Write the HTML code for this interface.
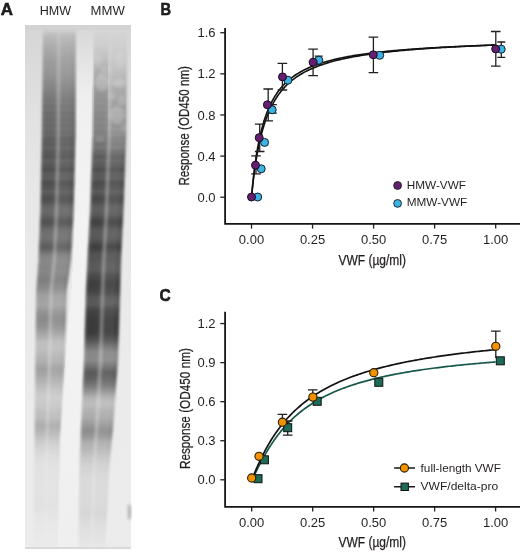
<!DOCTYPE html>
<html><head><meta charset="utf-8"><style>
html,body{margin:0;padding:0;background:#fff;}
body{width:520px;height:552px;position:relative;overflow:hidden;font-family:"Liberation Sans", sans-serif;}
</style></head><body>
<svg width="520" height="552" viewBox="0 0 520 552" style="position:absolute;left:0;top:0" shape-rendering="crispEdges">
<defs>
<linearGradient id="lp" x1="0" x2="1" y1="0" y2="0"><stop offset="0.000" stop-color="#000" stop-opacity="0.000"/><stop offset="0.030" stop-color="#000" stop-opacity="0.600"/><stop offset="0.070" stop-color="#000" stop-opacity="0.950"/><stop offset="0.110" stop-color="#000" stop-opacity="1.000"/><stop offset="0.250" stop-color="#000" stop-opacity="1.000"/><stop offset="0.400" stop-color="#000" stop-opacity="0.980"/><stop offset="0.430" stop-color="#000" stop-opacity="0.850"/><stop offset="0.460" stop-color="#000" stop-opacity="0.680"/><stop offset="0.490" stop-color="#000" stop-opacity="0.630"/><stop offset="0.520" stop-color="#000" stop-opacity="0.680"/><stop offset="0.550" stop-color="#000" stop-opacity="0.840"/><stop offset="0.580" stop-color="#000" stop-opacity="0.920"/><stop offset="0.800" stop-color="#000" stop-opacity="0.920"/><stop offset="0.880" stop-color="#000" stop-opacity="0.970"/><stop offset="0.930" stop-color="#000" stop-opacity="1.000"/><stop offset="0.970" stop-color="#000" stop-opacity="0.650"/><stop offset="1.000" stop-color="#000" stop-opacity="0.000"/></linearGradient>
</defs>
<defs><linearGradient id="gbg" x1="0" x2="0" y1="0" y2="1"><stop offset="0.0000" stop-color="rgb(205,205,205)"/><stop offset="0.0103" stop-color="rgb(214,214,214)"/><stop offset="0.0675" stop-color="rgb(218,218,218)"/><stop offset="0.1820" stop-color="rgb(226,226,226)"/><stop offset="0.3346" stop-color="rgb(232,232,232)"/><stop offset="0.6208" stop-color="rgb(235,235,235)"/><stop offset="0.9985" stop-color="rgb(236,236,236)"/></linearGradient></defs>
<rect x="24.6" y="24.6" width="106.3" height="524.2" fill="url(#gbg)"/>
<rect x="24.6" y="24.6" width="106.3" height="5" fill="#d3d3d3"/>
<defs><linearGradient id="ilw" gradientUnits="userSpaceOnUse" x1="0" y1="30" x2="0" y2="548"><stop offset="0" stop-color="#fff" stop-opacity="0.05"/><stop offset="0.13" stop-color="#fff" stop-opacity="0.5"/><stop offset="0.6" stop-color="#fff" stop-opacity="0.4"/><stop offset="1" stop-color="#fff" stop-opacity="0.15"/></linearGradient></defs>
<polygon points="76.5,30 93.5,30 91.6,135 89.3,210 85.8,285 83.5,360 80,430 77,548 58,548 60.5,430 65,360 72,285 75,210 76.6,135" fill="url(#ilw)"/>
<defs><filter id="gb" x="-5%" y="-1%" width="110%" height="102%"><feGaussianBlur stdDeviation="0.9"/></filter></defs>
<g filter="url(#gb)">
<rect x="41.94" y="30.00" width="34.56" height="1.00" fill="url(#lp)" opacity="0.037"/>
<rect x="41.93" y="31.00" width="34.57" height="1.00" fill="url(#lp)" opacity="0.055"/>
<rect x="41.92" y="32.00" width="34.58" height="1.00" fill="url(#lp)" opacity="0.072"/>
<rect x="41.91" y="33.00" width="34.59" height="1.00" fill="url(#lp)" opacity="0.090"/>
<rect x="41.90" y="34.00" width="34.59" height="1.00" fill="url(#lp)" opacity="0.108"/>
<rect x="41.89" y="35.00" width="34.60" height="1.00" fill="url(#lp)" opacity="0.125"/>
<rect x="41.87" y="36.00" width="34.61" height="1.00" fill="url(#lp)" opacity="0.137"/>
<rect x="41.86" y="37.00" width="34.62" height="1.00" fill="url(#lp)" opacity="0.144"/>
<rect x="41.85" y="38.00" width="34.63" height="1.00" fill="url(#lp)" opacity="0.151"/>
<rect x="41.84" y="39.00" width="34.64" height="1.00" fill="url(#lp)" opacity="0.158"/>
<rect x="41.83" y="40.00" width="34.66" height="1.00" fill="url(#lp)" opacity="0.164"/>
<rect x="41.82" y="41.00" width="34.66" height="1.00" fill="url(#lp)" opacity="0.171"/>
<rect x="41.81" y="42.00" width="34.67" height="1.00" fill="url(#lp)" opacity="0.178"/>
<rect x="41.80" y="43.00" width="34.69" height="1.00" fill="url(#lp)" opacity="0.184"/>
<rect x="41.79" y="44.00" width="34.70" height="1.00" fill="url(#lp)" opacity="0.191"/>
<rect x="41.78" y="45.00" width="34.71" height="1.00" fill="url(#lp)" opacity="0.198"/>
<rect x="41.77" y="46.00" width="34.72" height="1.00" fill="url(#lp)" opacity="0.204"/>
<rect x="41.75" y="47.00" width="34.73" height="1.00" fill="url(#lp)" opacity="0.211"/>
<rect x="41.74" y="48.00" width="34.74" height="1.00" fill="url(#lp)" opacity="0.217"/>
<rect x="41.73" y="49.00" width="34.75" height="1.00" fill="url(#lp)" opacity="0.222"/>
<rect x="41.72" y="50.00" width="34.76" height="1.00" fill="url(#lp)" opacity="0.227"/>
<rect x="41.71" y="51.00" width="34.77" height="1.00" fill="url(#lp)" opacity="0.232"/>
<rect x="41.70" y="52.00" width="34.77" height="1.00" fill="url(#lp)" opacity="0.237"/>
<rect x="41.69" y="53.00" width="34.78" height="1.00" fill="url(#lp)" opacity="0.242"/>
<rect x="41.68" y="54.00" width="34.79" height="1.00" fill="url(#lp)" opacity="0.247"/>
<rect x="41.67" y="55.00" width="34.80" height="1.00" fill="url(#lp)" opacity="0.253"/>
<rect x="41.66" y="56.00" width="34.81" height="1.00" fill="url(#lp)" opacity="0.258"/>
<rect x="41.65" y="57.00" width="34.83" height="1.00" fill="url(#lp)" opacity="0.263"/>
<rect x="41.63" y="58.00" width="34.84" height="1.00" fill="url(#lp)" opacity="0.268"/>
<rect x="41.62" y="59.00" width="34.84" height="1.00" fill="url(#lp)" opacity="0.273"/>
<rect x="41.61" y="60.00" width="34.86" height="1.00" fill="url(#lp)" opacity="0.277"/>
<rect x="41.60" y="61.00" width="34.87" height="1.00" fill="url(#lp)" opacity="0.281"/>
<rect x="41.59" y="62.00" width="34.88" height="1.00" fill="url(#lp)" opacity="0.285"/>
<rect x="41.58" y="63.00" width="34.89" height="1.00" fill="url(#lp)" opacity="0.289"/>
<rect x="41.57" y="64.00" width="34.90" height="1.00" fill="url(#lp)" opacity="0.292"/>
<rect x="41.56" y="65.00" width="34.91" height="1.00" fill="url(#lp)" opacity="0.296"/>
<rect x="41.55" y="66.00" width="34.92" height="1.00" fill="url(#lp)" opacity="0.300"/>
<rect x="41.54" y="67.00" width="34.93" height="1.00" fill="url(#lp)" opacity="0.304"/>
<rect x="41.53" y="68.00" width="34.94" height="1.00" fill="url(#lp)" opacity="0.307"/>
<rect x="41.51" y="69.00" width="34.95" height="1.00" fill="url(#lp)" opacity="0.311"/>
<rect x="41.50" y="70.00" width="34.96" height="1.00" fill="url(#lp)" opacity="0.315"/>
<rect x="41.49" y="71.00" width="34.96" height="1.00" fill="url(#lp)" opacity="0.319"/>
<rect x="41.48" y="72.00" width="34.97" height="1.00" fill="url(#lp)" opacity="0.322"/>
<rect x="41.47" y="73.00" width="34.98" height="1.00" fill="url(#lp)" opacity="0.326"/>
<rect x="41.46" y="74.00" width="34.99" height="1.00" fill="url(#lp)" opacity="0.330"/>
<rect x="41.45" y="75.00" width="35.01" height="1.00" fill="url(#lp)" opacity="0.335"/>
<rect x="41.44" y="76.00" width="35.02" height="1.00" fill="url(#lp)" opacity="0.340"/>
<rect x="41.43" y="77.00" width="35.03" height="1.00" fill="url(#lp)" opacity="0.346"/>
<rect x="41.42" y="78.00" width="35.04" height="1.00" fill="url(#lp)" opacity="0.351"/>
<rect x="41.41" y="79.00" width="35.05" height="1.00" fill="url(#lp)" opacity="0.357"/>
<rect x="41.39" y="80.00" width="35.06" height="1.00" fill="url(#lp)" opacity="0.362"/>
<rect x="41.38" y="81.00" width="35.07" height="1.00" fill="url(#lp)" opacity="0.368"/>
<rect x="41.37" y="82.00" width="35.08" height="1.00" fill="url(#lp)" opacity="0.373"/>
<rect x="41.36" y="83.00" width="35.09" height="1.00" fill="url(#lp)" opacity="0.379"/>
<rect x="41.35" y="84.00" width="35.10" height="1.00" fill="url(#lp)" opacity="0.384"/>
<rect x="41.34" y="85.00" width="35.11" height="1.00" fill="url(#lp)" opacity="0.390"/>
<rect x="41.33" y="86.00" width="35.12" height="1.00" fill="url(#lp)" opacity="0.395"/>
<rect x="41.32" y="87.00" width="35.13" height="1.00" fill="url(#lp)" opacity="0.401"/>
<rect x="41.31" y="88.00" width="35.14" height="1.00" fill="url(#lp)" opacity="0.406"/>
<rect x="41.30" y="89.00" width="35.14" height="1.00" fill="url(#lp)" opacity="0.412"/>
<rect x="41.29" y="90.00" width="35.16" height="1.00" fill="url(#lp)" opacity="0.417"/>
<rect x="41.27" y="91.00" width="35.16" height="1.00" fill="url(#lp)" opacity="0.423"/>
<rect x="41.26" y="92.00" width="35.17" height="1.00" fill="url(#lp)" opacity="0.429"/>
<rect x="41.25" y="93.00" width="35.19" height="1.00" fill="url(#lp)" opacity="0.435"/>
<rect x="41.24" y="94.00" width="35.20" height="1.00" fill="url(#lp)" opacity="0.440"/>
<rect x="41.23" y="95.00" width="35.21" height="1.00" fill="url(#lp)" opacity="0.446"/>
<rect x="41.22" y="96.00" width="35.22" height="1.00" fill="url(#lp)" opacity="0.450"/>
<rect x="41.21" y="97.00" width="35.23" height="1.00" fill="url(#lp)" opacity="0.454"/>
<rect x="41.20" y="98.00" width="35.24" height="1.00" fill="url(#lp)" opacity="0.461"/>
<rect x="41.19" y="99.00" width="35.25" height="1.00" fill="url(#lp)" opacity="0.472"/>
<rect x="41.18" y="100.00" width="35.26" height="1.00" fill="url(#lp)" opacity="0.481"/>
<rect x="41.17" y="101.00" width="35.27" height="1.00" fill="url(#lp)" opacity="0.481"/>
<rect x="41.15" y="102.00" width="35.28" height="1.00" fill="url(#lp)" opacity="0.476"/>
<rect x="41.14" y="103.00" width="35.29" height="1.00" fill="url(#lp)" opacity="0.472"/>
<rect x="41.13" y="104.00" width="35.30" height="1.00" fill="url(#lp)" opacity="0.478"/>
<rect x="41.12" y="105.00" width="35.31" height="1.00" fill="url(#lp)" opacity="0.493"/>
<rect x="41.11" y="106.00" width="35.32" height="1.00" fill="url(#lp)" opacity="0.506"/>
<rect x="41.10" y="107.00" width="35.33" height="1.00" fill="url(#lp)" opacity="0.507"/>
<rect x="41.09" y="108.00" width="35.34" height="1.00" fill="url(#lp)" opacity="0.498"/>
<rect x="41.08" y="109.00" width="35.34" height="1.00" fill="url(#lp)" opacity="0.491"/>
<rect x="41.07" y="110.00" width="35.36" height="1.00" fill="url(#lp)" opacity="0.495"/>
<rect x="41.06" y="111.00" width="35.37" height="1.00" fill="url(#lp)" opacity="0.509"/>
<rect x="41.05" y="112.00" width="35.38" height="1.00" fill="url(#lp)" opacity="0.524"/>
<rect x="41.03" y="113.00" width="35.39" height="1.00" fill="url(#lp)" opacity="0.528"/>
<rect x="41.02" y="114.00" width="35.40" height="1.00" fill="url(#lp)" opacity="0.521"/>
<rect x="41.01" y="115.00" width="35.41" height="1.00" fill="url(#lp)" opacity="0.512"/>
<rect x="41.00" y="116.00" width="35.42" height="1.00" fill="url(#lp)" opacity="0.511"/>
<rect x="40.99" y="117.00" width="35.43" height="1.00" fill="url(#lp)" opacity="0.522"/>
<rect x="40.98" y="118.00" width="35.44" height="1.00" fill="url(#lp)" opacity="0.536"/>
<rect x="40.97" y="119.00" width="35.45" height="1.00" fill="url(#lp)" opacity="0.543"/>
<rect x="40.96" y="120.00" width="35.46" height="1.00" fill="url(#lp)" opacity="0.537"/>
<rect x="40.95" y="121.00" width="35.47" height="1.00" fill="url(#lp)" opacity="0.526"/>
<rect x="40.94" y="122.00" width="35.48" height="1.00" fill="url(#lp)" opacity="0.520"/>
<rect x="40.93" y="123.00" width="35.49" height="1.00" fill="url(#lp)" opacity="0.526"/>
<rect x="40.91" y="124.00" width="35.50" height="1.00" fill="url(#lp)" opacity="0.540"/>
<rect x="40.90" y="125.00" width="35.51" height="1.00" fill="url(#lp)" opacity="0.549"/>
<rect x="40.89" y="126.00" width="35.52" height="1.00" fill="url(#lp)" opacity="0.546"/>
<rect x="40.88" y="127.00" width="35.53" height="1.00" fill="url(#lp)" opacity="0.535"/>
<rect x="40.87" y="128.00" width="35.54" height="1.00" fill="url(#lp)" opacity="0.527"/>
<rect x="40.86" y="129.00" width="35.55" height="1.00" fill="url(#lp)" opacity="0.530"/>
<rect x="40.85" y="130.00" width="35.56" height="1.00" fill="url(#lp)" opacity="0.543"/>
<rect x="40.84" y="131.00" width="35.57" height="1.00" fill="url(#lp)" opacity="0.555"/>
<rect x="40.83" y="132.00" width="35.58" height="1.00" fill="url(#lp)" opacity="0.558"/>
<rect x="40.82" y="133.00" width="35.59" height="1.00" fill="url(#lp)" opacity="0.550"/>
<rect x="40.81" y="134.00" width="35.60" height="1.00" fill="url(#lp)" opacity="0.544"/>
<rect x="40.79" y="135.00" width="35.60" height="1.00" fill="url(#lp)" opacity="0.547"/>
<rect x="40.77" y="136.00" width="35.59" height="1.00" fill="url(#lp)" opacity="0.564"/>
<rect x="40.75" y="137.00" width="35.58" height="1.00" fill="url(#lp)" opacity="0.584"/>
<rect x="40.73" y="138.00" width="35.58" height="1.00" fill="url(#lp)" opacity="0.595"/>
<rect x="40.72" y="139.00" width="35.57" height="1.00" fill="url(#lp)" opacity="0.594"/>
<rect x="40.70" y="140.00" width="35.56" height="1.00" fill="url(#lp)" opacity="0.587"/>
<rect x="40.68" y="141.00" width="35.56" height="1.00" fill="url(#lp)" opacity="0.586"/>
<rect x="40.66" y="142.00" width="35.55" height="1.00" fill="url(#lp)" opacity="0.593"/>
<rect x="40.64" y="143.00" width="35.54" height="1.00" fill="url(#lp)" opacity="0.604"/>
<rect x="40.62" y="144.00" width="35.54" height="1.00" fill="url(#lp)" opacity="0.608"/>
<rect x="40.60" y="145.00" width="35.53" height="1.00" fill="url(#lp)" opacity="0.599"/>
<rect x="40.59" y="146.00" width="35.52" height="1.00" fill="url(#lp)" opacity="0.582"/>
<rect x="40.57" y="147.00" width="35.52" height="1.00" fill="url(#lp)" opacity="0.571"/>
<rect x="40.55" y="148.00" width="35.51" height="1.00" fill="url(#lp)" opacity="0.574"/>
<rect x="40.53" y="149.00" width="35.50" height="1.00" fill="url(#lp)" opacity="0.590"/>
<rect x="40.51" y="150.00" width="35.50" height="1.00" fill="url(#lp)" opacity="0.608"/>
<rect x="40.49" y="151.00" width="35.49" height="1.00" fill="url(#lp)" opacity="0.616"/>
<rect x="40.47" y="152.00" width="35.48" height="1.00" fill="url(#lp)" opacity="0.615"/>
<rect x="40.45" y="153.00" width="35.48" height="1.00" fill="url(#lp)" opacity="0.614"/>
<rect x="40.44" y="154.00" width="35.47" height="1.00" fill="url(#lp)" opacity="0.620"/>
<rect x="40.42" y="155.00" width="35.46" height="1.00" fill="url(#lp)" opacity="0.632"/>
<rect x="40.40" y="156.00" width="35.46" height="1.00" fill="url(#lp)" opacity="0.641"/>
<rect x="40.38" y="157.00" width="35.45" height="1.00" fill="url(#lp)" opacity="0.637"/>
<rect x="40.36" y="158.00" width="35.44" height="1.00" fill="url(#lp)" opacity="0.618"/>
<rect x="40.34" y="159.00" width="35.44" height="1.00" fill="url(#lp)" opacity="0.596"/>
<rect x="40.32" y="160.00" width="35.43" height="1.00" fill="url(#lp)" opacity="0.584"/>
<rect x="40.31" y="161.00" width="35.42" height="1.00" fill="url(#lp)" opacity="0.587"/>
<rect x="40.29" y="162.00" width="35.42" height="1.00" fill="url(#lp)" opacity="0.601"/>
<rect x="40.27" y="163.00" width="35.41" height="1.00" fill="url(#lp)" opacity="0.613"/>
<rect x="40.25" y="164.00" width="35.40" height="1.00" fill="url(#lp)" opacity="0.617"/>
<rect x="40.23" y="165.00" width="35.40" height="1.00" fill="url(#lp)" opacity="0.617"/>
<rect x="40.21" y="166.00" width="35.39" height="1.00" fill="url(#lp)" opacity="0.622"/>
<rect x="40.19" y="167.00" width="35.38" height="1.00" fill="url(#lp)" opacity="0.637"/>
<rect x="40.17" y="168.00" width="35.38" height="1.00" fill="url(#lp)" opacity="0.656"/>
<rect x="40.16" y="169.00" width="35.37" height="1.00" fill="url(#lp)" opacity="0.665"/>
<rect x="40.14" y="170.00" width="35.36" height="1.00" fill="url(#lp)" opacity="0.658"/>
<rect x="40.12" y="171.00" width="35.36" height="1.00" fill="url(#lp)" opacity="0.638"/>
<rect x="40.10" y="172.00" width="35.35" height="1.00" fill="url(#lp)" opacity="0.616"/>
<rect x="40.08" y="173.00" width="35.34" height="1.00" fill="url(#lp)" opacity="0.604"/>
<rect x="40.06" y="174.00" width="35.34" height="1.00" fill="url(#lp)" opacity="0.605"/>
<rect x="40.04" y="175.00" width="35.33" height="1.00" fill="url(#lp)" opacity="0.609"/>
<rect x="40.03" y="176.00" width="35.32" height="1.00" fill="url(#lp)" opacity="0.609"/>
<rect x="40.01" y="177.00" width="35.32" height="1.00" fill="url(#lp)" opacity="0.602"/>
<rect x="39.99" y="178.00" width="35.31" height="1.00" fill="url(#lp)" opacity="0.599"/>
<rect x="39.97" y="179.00" width="35.30" height="1.00" fill="url(#lp)" opacity="0.608"/>
<rect x="39.95" y="180.00" width="35.30" height="1.00" fill="url(#lp)" opacity="0.630"/>
<rect x="39.93" y="181.00" width="35.29" height="1.00" fill="url(#lp)" opacity="0.656"/>
<rect x="39.91" y="182.00" width="35.28" height="1.00" fill="url(#lp)" opacity="0.672"/>
<rect x="39.89" y="183.00" width="35.28" height="1.00" fill="url(#lp)" opacity="0.671"/>
<rect x="39.88" y="184.00" width="35.27" height="1.00" fill="url(#lp)" opacity="0.660"/>
<rect x="39.86" y="185.00" width="35.26" height="1.00" fill="url(#lp)" opacity="0.648"/>
<rect x="39.84" y="186.00" width="35.26" height="1.00" fill="url(#lp)" opacity="0.644"/>
<rect x="39.82" y="187.00" width="35.25" height="1.00" fill="url(#lp)" opacity="0.644"/>
<rect x="39.80" y="188.00" width="35.24" height="1.00" fill="url(#lp)" opacity="0.640"/>
<rect x="39.78" y="189.00" width="35.24" height="1.00" fill="url(#lp)" opacity="0.625"/>
<rect x="39.76" y="190.00" width="35.23" height="1.00" fill="url(#lp)" opacity="0.606"/>
<rect x="39.75" y="191.00" width="35.22" height="1.00" fill="url(#lp)" opacity="0.595"/>
<rect x="39.73" y="192.00" width="35.22" height="1.00" fill="url(#lp)" opacity="0.600"/>
<rect x="39.71" y="193.00" width="35.21" height="1.00" fill="url(#lp)" opacity="0.616"/>
<rect x="39.69" y="194.00" width="35.20" height="1.00" fill="url(#lp)" opacity="0.632"/>
<rect x="39.67" y="195.00" width="35.20" height="1.00" fill="url(#lp)" opacity="0.644"/>
<rect x="39.65" y="196.00" width="35.19" height="1.00" fill="url(#lp)" opacity="0.652"/>
<rect x="39.63" y="197.00" width="35.18" height="1.00" fill="url(#lp)" opacity="0.659"/>
<rect x="39.61" y="198.00" width="35.18" height="1.00" fill="url(#lp)" opacity="0.665"/>
<rect x="39.60" y="199.00" width="35.17" height="1.00" fill="url(#lp)" opacity="0.667"/>
<rect x="39.58" y="200.00" width="35.16" height="1.00" fill="url(#lp)" opacity="0.660"/>
<rect x="39.56" y="201.00" width="35.16" height="1.00" fill="url(#lp)" opacity="0.649"/>
<rect x="39.54" y="202.00" width="35.15" height="1.00" fill="url(#lp)" opacity="0.634"/>
<rect x="39.52" y="203.00" width="35.14" height="1.00" fill="url(#lp)" opacity="0.617"/>
<rect x="39.50" y="204.00" width="35.14" height="1.00" fill="url(#lp)" opacity="0.601"/>
<rect x="39.48" y="205.00" width="35.13" height="1.00" fill="url(#lp)" opacity="0.587"/>
<rect x="39.47" y="206.00" width="35.12" height="1.00" fill="url(#lp)" opacity="0.575"/>
<rect x="39.45" y="207.00" width="35.12" height="1.00" fill="url(#lp)" opacity="0.566"/>
<rect x="39.43" y="208.00" width="35.11" height="1.00" fill="url(#lp)" opacity="0.560"/>
<rect x="39.41" y="209.00" width="35.10" height="1.00" fill="url(#lp)" opacity="0.556"/>
<rect x="39.38" y="210.00" width="35.09" height="1.00" fill="url(#lp)" opacity="0.554"/>
<rect x="39.34" y="211.00" width="35.08" height="1.00" fill="url(#lp)" opacity="0.554"/>
<rect x="39.30" y="212.00" width="35.07" height="1.00" fill="url(#lp)" opacity="0.556"/>
<rect x="39.27" y="213.00" width="35.06" height="1.00" fill="url(#lp)" opacity="0.561"/>
<rect x="39.23" y="214.00" width="35.05" height="1.00" fill="url(#lp)" opacity="0.568"/>
<rect x="39.19" y="215.00" width="35.03" height="1.00" fill="url(#lp)" opacity="0.578"/>
<rect x="39.15" y="216.00" width="35.02" height="1.00" fill="url(#lp)" opacity="0.591"/>
<rect x="39.12" y="217.00" width="35.01" height="1.00" fill="url(#lp)" opacity="0.606"/>
<rect x="39.08" y="218.00" width="35.00" height="1.00" fill="url(#lp)" opacity="0.622"/>
<rect x="39.04" y="219.00" width="34.99" height="1.00" fill="url(#lp)" opacity="0.636"/>
<rect x="39.00" y="220.00" width="34.97" height="1.00" fill="url(#lp)" opacity="0.646"/>
<rect x="38.96" y="221.00" width="34.96" height="1.00" fill="url(#lp)" opacity="0.651"/>
<rect x="38.92" y="222.00" width="34.95" height="1.00" fill="url(#lp)" opacity="0.650"/>
<rect x="38.89" y="223.00" width="34.94" height="1.00" fill="url(#lp)" opacity="0.642"/>
<rect x="38.85" y="224.00" width="34.93" height="1.00" fill="url(#lp)" opacity="0.629"/>
<rect x="38.81" y="225.00" width="34.91" height="1.00" fill="url(#lp)" opacity="0.613"/>
<rect x="38.77" y="226.00" width="34.90" height="1.00" fill="url(#lp)" opacity="0.595"/>
<rect x="38.73" y="227.00" width="34.89" height="1.00" fill="url(#lp)" opacity="0.578"/>
<rect x="38.70" y="228.00" width="34.88" height="1.00" fill="url(#lp)" opacity="0.562"/>
<rect x="38.66" y="229.00" width="34.87" height="1.00" fill="url(#lp)" opacity="0.549"/>
<rect x="38.62" y="230.00" width="34.85" height="1.00" fill="url(#lp)" opacity="0.539"/>
<rect x="38.58" y="231.00" width="34.84" height="1.00" fill="url(#lp)" opacity="0.532"/>
<rect x="38.55" y="232.00" width="34.83" height="1.00" fill="url(#lp)" opacity="0.527"/>
<rect x="38.51" y="233.00" width="34.82" height="1.00" fill="url(#lp)" opacity="0.523"/>
<rect x="38.47" y="234.00" width="34.81" height="1.00" fill="url(#lp)" opacity="0.521"/>
<rect x="38.43" y="235.00" width="34.79" height="1.00" fill="url(#lp)" opacity="0.520"/>
<rect x="38.39" y="236.00" width="34.78" height="1.00" fill="url(#lp)" opacity="0.519"/>
<rect x="38.35" y="237.00" width="34.77" height="1.00" fill="url(#lp)" opacity="0.520"/>
<rect x="38.32" y="238.00" width="34.76" height="1.00" fill="url(#lp)" opacity="0.523"/>
<rect x="38.28" y="239.00" width="34.75" height="1.00" fill="url(#lp)" opacity="0.529"/>
<rect x="38.24" y="240.00" width="34.73" height="1.00" fill="url(#lp)" opacity="0.537"/>
<rect x="38.20" y="241.00" width="34.72" height="1.00" fill="url(#lp)" opacity="0.549"/>
<rect x="38.16" y="242.00" width="34.71" height="1.00" fill="url(#lp)" opacity="0.562"/>
<rect x="38.13" y="243.00" width="34.70" height="1.00" fill="url(#lp)" opacity="0.577"/>
<rect x="38.09" y="244.00" width="34.69" height="1.00" fill="url(#lp)" opacity="0.589"/>
<rect x="38.05" y="245.00" width="34.67" height="1.00" fill="url(#lp)" opacity="0.598"/>
<rect x="38.01" y="246.00" width="34.66" height="1.00" fill="url(#lp)" opacity="0.602"/>
<rect x="37.98" y="247.00" width="34.65" height="1.00" fill="url(#lp)" opacity="0.599"/>
<rect x="37.94" y="248.00" width="34.64" height="1.00" fill="url(#lp)" opacity="0.590"/>
<rect x="37.90" y="249.00" width="34.63" height="1.00" fill="url(#lp)" opacity="0.576"/>
<rect x="37.86" y="250.00" width="34.61" height="1.00" fill="url(#lp)" opacity="0.555"/>
<rect x="37.82" y="251.00" width="34.60" height="1.00" fill="url(#lp)" opacity="0.531"/>
<rect x="37.78" y="252.00" width="34.59" height="1.00" fill="url(#lp)" opacity="0.507"/>
<rect x="37.75" y="253.00" width="34.58" height="1.00" fill="url(#lp)" opacity="0.485"/>
<rect x="37.71" y="254.00" width="34.57" height="1.00" fill="url(#lp)" opacity="0.466"/>
<rect x="37.67" y="255.00" width="34.55" height="1.00" fill="url(#lp)" opacity="0.452"/>
<rect x="37.63" y="256.00" width="34.54" height="1.00" fill="url(#lp)" opacity="0.442"/>
<rect x="37.59" y="257.00" width="34.53" height="1.00" fill="url(#lp)" opacity="0.435"/>
<rect x="37.56" y="258.00" width="34.52" height="1.00" fill="url(#lp)" opacity="0.430"/>
<rect x="37.52" y="259.00" width="34.51" height="1.00" fill="url(#lp)" opacity="0.426"/>
<rect x="37.46" y="260.00" width="34.47" height="1.00" fill="url(#lp)" opacity="0.423"/>
<rect x="37.39" y="261.00" width="34.40" height="1.00" fill="url(#lp)" opacity="0.419"/>
<rect x="37.32" y="262.00" width="34.33" height="1.00" fill="url(#lp)" opacity="0.419"/>
<rect x="37.24" y="263.00" width="34.27" height="1.00" fill="url(#lp)" opacity="0.421"/>
<rect x="37.17" y="264.00" width="34.20" height="1.00" fill="url(#lp)" opacity="0.423"/>
<rect x="37.10" y="265.00" width="34.13" height="1.00" fill="url(#lp)" opacity="0.425"/>
<rect x="37.02" y="266.00" width="34.07" height="1.00" fill="url(#lp)" opacity="0.427"/>
<rect x="36.95" y="267.00" width="34.00" height="1.00" fill="url(#lp)" opacity="0.429"/>
<rect x="36.88" y="268.00" width="33.93" height="1.00" fill="url(#lp)" opacity="0.429"/>
<rect x="36.80" y="269.00" width="33.87" height="1.00" fill="url(#lp)" opacity="0.427"/>
<rect x="36.73" y="270.00" width="33.80" height="1.00" fill="url(#lp)" opacity="0.425"/>
<rect x="36.66" y="271.00" width="33.73" height="1.00" fill="url(#lp)" opacity="0.423"/>
<rect x="36.58" y="272.00" width="33.67" height="1.00" fill="url(#lp)" opacity="0.424"/>
<rect x="36.51" y="273.00" width="33.60" height="1.00" fill="url(#lp)" opacity="0.430"/>
<rect x="36.44" y="274.00" width="33.53" height="1.00" fill="url(#lp)" opacity="0.435"/>
<rect x="36.36" y="275.00" width="33.47" height="1.00" fill="url(#lp)" opacity="0.441"/>
<rect x="36.29" y="276.00" width="33.40" height="1.00" fill="url(#lp)" opacity="0.446"/>
<rect x="36.22" y="277.00" width="33.33" height="1.00" fill="url(#lp)" opacity="0.451"/>
<rect x="36.14" y="278.00" width="33.27" height="1.00" fill="url(#lp)" opacity="0.457"/>
<rect x="36.07" y="279.00" width="33.20" height="1.00" fill="url(#lp)" opacity="0.462"/>
<rect x="36.00" y="280.00" width="33.13" height="1.00" fill="url(#lp)" opacity="0.461"/>
<rect x="35.92" y="281.00" width="33.07" height="1.00" fill="url(#lp)" opacity="0.455"/>
<rect x="35.85" y="282.00" width="33.00" height="1.00" fill="url(#lp)" opacity="0.448"/>
<rect x="35.78" y="283.00" width="32.93" height="1.00" fill="url(#lp)" opacity="0.441"/>
<rect x="35.70" y="284.00" width="32.87" height="1.00" fill="url(#lp)" opacity="0.434"/>
<rect x="35.63" y="285.00" width="32.80" height="1.00" fill="url(#lp)" opacity="0.427"/>
<rect x="35.56" y="286.00" width="32.73" height="1.00" fill="url(#lp)" opacity="0.420"/>
<rect x="35.48" y="287.00" width="32.67" height="1.00" fill="url(#lp)" opacity="0.413"/>
<rect x="35.41" y="288.00" width="32.60" height="1.00" fill="url(#lp)" opacity="0.404"/>
<rect x="35.34" y="289.00" width="32.53" height="1.00" fill="url(#lp)" opacity="0.392"/>
<rect x="35.29" y="290.00" width="32.49" height="1.00" fill="url(#lp)" opacity="0.380"/>
<rect x="35.28" y="291.00" width="32.47" height="1.00" fill="url(#lp)" opacity="0.369"/>
<rect x="35.26" y="292.00" width="32.45" height="1.00" fill="url(#lp)" opacity="0.357"/>
<rect x="35.25" y="293.00" width="32.44" height="1.00" fill="url(#lp)" opacity="0.345"/>
<rect x="35.24" y="294.00" width="32.42" height="1.00" fill="url(#lp)" opacity="0.334"/>
<rect x="35.22" y="295.00" width="32.40" height="1.00" fill="url(#lp)" opacity="0.322"/>
<rect x="35.21" y="296.00" width="32.38" height="1.00" fill="url(#lp)" opacity="0.315"/>
<rect x="35.19" y="297.00" width="32.36" height="1.00" fill="url(#lp)" opacity="0.313"/>
<rect x="35.18" y="298.00" width="32.34" height="1.00" fill="url(#lp)" opacity="0.310"/>
<rect x="35.16" y="299.00" width="32.32" height="1.00" fill="url(#lp)" opacity="0.308"/>
<rect x="35.15" y="300.00" width="32.30" height="1.00" fill="url(#lp)" opacity="0.306"/>
<rect x="35.14" y="301.00" width="32.29" height="1.00" fill="url(#lp)" opacity="0.303"/>
<rect x="35.12" y="302.00" width="32.27" height="1.00" fill="url(#lp)" opacity="0.301"/>
<rect x="35.11" y="303.00" width="32.25" height="1.00" fill="url(#lp)" opacity="0.299"/>
<rect x="35.09" y="304.00" width="32.23" height="1.00" fill="url(#lp)" opacity="0.296"/>
<rect x="35.08" y="305.00" width="32.21" height="1.00" fill="url(#lp)" opacity="0.301"/>
<rect x="35.06" y="306.00" width="32.19" height="1.00" fill="url(#lp)" opacity="0.311"/>
<rect x="35.05" y="307.00" width="32.17" height="1.00" fill="url(#lp)" opacity="0.322"/>
<rect x="35.04" y="308.00" width="32.16" height="1.00" fill="url(#lp)" opacity="0.333"/>
<rect x="35.02" y="309.00" width="32.14" height="1.00" fill="url(#lp)" opacity="0.343"/>
<rect x="35.01" y="310.00" width="32.12" height="1.00" fill="url(#lp)" opacity="0.354"/>
<rect x="34.99" y="311.00" width="32.10" height="1.00" fill="url(#lp)" opacity="0.365"/>
<rect x="34.98" y="312.00" width="32.08" height="1.00" fill="url(#lp)" opacity="0.376"/>
<rect x="34.96" y="313.00" width="32.06" height="1.00" fill="url(#lp)" opacity="0.384"/>
<rect x="34.95" y="314.00" width="32.05" height="1.00" fill="url(#lp)" opacity="0.389"/>
<rect x="34.94" y="315.00" width="32.03" height="1.00" fill="url(#lp)" opacity="0.394"/>
<rect x="34.92" y="316.00" width="32.01" height="1.00" fill="url(#lp)" opacity="0.399"/>
<rect x="34.91" y="317.00" width="31.99" height="1.00" fill="url(#lp)" opacity="0.404"/>
<rect x="34.89" y="318.00" width="31.97" height="1.00" fill="url(#lp)" opacity="0.409"/>
<rect x="34.88" y="319.00" width="31.95" height="1.00" fill="url(#lp)" opacity="0.409"/>
<rect x="34.86" y="320.00" width="31.93" height="1.00" fill="url(#lp)" opacity="0.405"/>
<rect x="34.85" y="321.00" width="31.92" height="1.00" fill="url(#lp)" opacity="0.401"/>
<rect x="34.84" y="322.00" width="31.90" height="1.00" fill="url(#lp)" opacity="0.396"/>
<rect x="34.82" y="323.00" width="31.88" height="1.00" fill="url(#lp)" opacity="0.392"/>
<rect x="34.81" y="324.00" width="31.86" height="1.00" fill="url(#lp)" opacity="0.388"/>
<rect x="34.79" y="325.00" width="31.84" height="1.00" fill="url(#lp)" opacity="0.384"/>
<rect x="34.78" y="326.00" width="31.82" height="1.00" fill="url(#lp)" opacity="0.376"/>
<rect x="34.76" y="327.00" width="31.80" height="1.00" fill="url(#lp)" opacity="0.366"/>
<rect x="34.75" y="328.00" width="31.78" height="1.00" fill="url(#lp)" opacity="0.355"/>
<rect x="34.74" y="329.00" width="31.77" height="1.00" fill="url(#lp)" opacity="0.345"/>
<rect x="34.72" y="330.00" width="31.75" height="1.00" fill="url(#lp)" opacity="0.334"/>
<rect x="34.71" y="331.00" width="31.73" height="1.00" fill="url(#lp)" opacity="0.323"/>
<rect x="34.69" y="332.00" width="31.71" height="1.00" fill="url(#lp)" opacity="0.312"/>
<rect x="34.68" y="333.00" width="31.69" height="1.00" fill="url(#lp)" opacity="0.299"/>
<rect x="34.66" y="334.00" width="31.67" height="1.00" fill="url(#lp)" opacity="0.286"/>
<rect x="34.65" y="335.00" width="31.65" height="1.00" fill="url(#lp)" opacity="0.274"/>
<rect x="34.64" y="336.00" width="31.64" height="1.00" fill="url(#lp)" opacity="0.261"/>
<rect x="34.62" y="337.00" width="31.62" height="1.00" fill="url(#lp)" opacity="0.248"/>
<rect x="34.61" y="338.00" width="31.60" height="1.00" fill="url(#lp)" opacity="0.235"/>
<rect x="34.59" y="339.00" width="31.58" height="1.00" fill="url(#lp)" opacity="0.223"/>
<rect x="34.58" y="340.00" width="31.56" height="1.00" fill="url(#lp)" opacity="0.210"/>
<rect x="34.56" y="341.00" width="31.54" height="1.00" fill="url(#lp)" opacity="0.197"/>
<rect x="34.55" y="342.00" width="31.53" height="1.00" fill="url(#lp)" opacity="0.190"/>
<rect x="34.54" y="343.00" width="31.51" height="1.00" fill="url(#lp)" opacity="0.189"/>
<rect x="34.52" y="344.00" width="31.49" height="1.00" fill="url(#lp)" opacity="0.188"/>
<rect x="34.51" y="345.00" width="31.47" height="1.00" fill="url(#lp)" opacity="0.186"/>
<rect x="34.49" y="346.00" width="31.45" height="1.00" fill="url(#lp)" opacity="0.185"/>
<rect x="34.48" y="347.00" width="31.43" height="1.00" fill="url(#lp)" opacity="0.184"/>
<rect x="34.46" y="348.00" width="31.41" height="1.00" fill="url(#lp)" opacity="0.186"/>
<rect x="34.45" y="349.00" width="31.40" height="1.00" fill="url(#lp)" opacity="0.191"/>
<rect x="34.44" y="350.00" width="31.38" height="1.00" fill="url(#lp)" opacity="0.196"/>
<rect x="34.42" y="351.00" width="31.36" height="1.00" fill="url(#lp)" opacity="0.202"/>
<rect x="34.41" y="352.00" width="31.34" height="1.00" fill="url(#lp)" opacity="0.207"/>
<rect x="34.39" y="353.00" width="31.32" height="1.00" fill="url(#lp)" opacity="0.212"/>
<rect x="34.38" y="354.00" width="31.30" height="1.00" fill="url(#lp)" opacity="0.218"/>
<rect x="34.36" y="355.00" width="31.28" height="1.00" fill="url(#lp)" opacity="0.223"/>
<rect x="34.35" y="356.00" width="31.27" height="1.00" fill="url(#lp)" opacity="0.228"/>
<rect x="34.34" y="357.00" width="31.25" height="1.00" fill="url(#lp)" opacity="0.233"/>
<rect x="34.32" y="358.00" width="31.23" height="1.00" fill="url(#lp)" opacity="0.238"/>
<rect x="34.31" y="359.00" width="31.21" height="1.00" fill="url(#lp)" opacity="0.243"/>
<rect x="34.30" y="360.00" width="31.17" height="1.00" fill="url(#lp)" opacity="0.248"/>
<rect x="34.29" y="361.00" width="31.12" height="1.00" fill="url(#lp)" opacity="0.253"/>
<rect x="34.28" y="362.00" width="31.06" height="1.00" fill="url(#lp)" opacity="0.261"/>
<rect x="34.28" y="363.00" width="31.00" height="1.00" fill="url(#lp)" opacity="0.271"/>
<rect x="34.27" y="364.00" width="30.95" height="1.00" fill="url(#lp)" opacity="0.282"/>
<rect x="34.27" y="365.00" width="30.89" height="1.00" fill="url(#lp)" opacity="0.293"/>
<rect x="34.26" y="366.00" width="30.83" height="1.00" fill="url(#lp)" opacity="0.303"/>
<rect x="34.25" y="367.00" width="30.78" height="1.00" fill="url(#lp)" opacity="0.314"/>
<rect x="34.25" y="368.00" width="30.72" height="1.00" fill="url(#lp)" opacity="0.318"/>
<rect x="34.24" y="369.00" width="30.67" height="1.00" fill="url(#lp)" opacity="0.314"/>
<rect x="34.23" y="370.00" width="30.61" height="1.00" fill="url(#lp)" opacity="0.311"/>
<rect x="34.23" y="371.00" width="30.55" height="1.00" fill="url(#lp)" opacity="0.307"/>
<rect x="34.22" y="372.00" width="30.50" height="1.00" fill="url(#lp)" opacity="0.304"/>
<rect x="34.22" y="373.00" width="30.44" height="1.00" fill="url(#lp)" opacity="0.300"/>
<rect x="34.21" y="374.00" width="30.38" height="1.00" fill="url(#lp)" opacity="0.294"/>
<rect x="34.20" y="375.00" width="30.33" height="1.00" fill="url(#lp)" opacity="0.286"/>
<rect x="34.20" y="376.00" width="30.27" height="1.00" fill="url(#lp)" opacity="0.278"/>
<rect x="34.19" y="377.00" width="30.22" height="1.00" fill="url(#lp)" opacity="0.270"/>
<rect x="34.18" y="378.00" width="30.16" height="1.00" fill="url(#lp)" opacity="0.262"/>
<rect x="34.18" y="379.00" width="30.10" height="1.00" fill="url(#lp)" opacity="0.254"/>
<rect x="34.17" y="380.00" width="30.05" height="1.00" fill="url(#lp)" opacity="0.247"/>
<rect x="34.17" y="381.00" width="29.99" height="1.00" fill="url(#lp)" opacity="0.239"/>
<rect x="34.16" y="382.00" width="29.93" height="1.00" fill="url(#lp)" opacity="0.230"/>
<rect x="34.15" y="383.00" width="29.88" height="1.00" fill="url(#lp)" opacity="0.222"/>
<rect x="34.15" y="384.00" width="29.82" height="1.00" fill="url(#lp)" opacity="0.213"/>
<rect x="34.14" y="385.00" width="29.77" height="1.00" fill="url(#lp)" opacity="0.205"/>
<rect x="34.13" y="386.00" width="29.71" height="1.00" fill="url(#lp)" opacity="0.196"/>
<rect x="34.13" y="387.00" width="29.65" height="1.00" fill="url(#lp)" opacity="0.188"/>
<rect x="34.12" y="388.00" width="29.60" height="1.00" fill="url(#lp)" opacity="0.181"/>
<rect x="34.12" y="389.00" width="29.54" height="1.00" fill="url(#lp)" opacity="0.174"/>
<rect x="34.11" y="390.00" width="29.48" height="1.00" fill="url(#lp)" opacity="0.168"/>
<rect x="34.10" y="391.00" width="29.43" height="1.00" fill="url(#lp)" opacity="0.162"/>
<rect x="34.10" y="392.00" width="29.37" height="1.00" fill="url(#lp)" opacity="0.156"/>
<rect x="34.09" y="393.00" width="29.32" height="1.00" fill="url(#lp)" opacity="0.150"/>
<rect x="34.08" y="394.00" width="29.26" height="1.00" fill="url(#lp)" opacity="0.144"/>
<rect x="34.08" y="395.00" width="29.20" height="1.00" fill="url(#lp)" opacity="0.138"/>
<rect x="34.07" y="396.00" width="29.15" height="1.00" fill="url(#lp)" opacity="0.132"/>
<rect x="34.07" y="397.00" width="29.09" height="1.00" fill="url(#lp)" opacity="0.130"/>
<rect x="34.06" y="398.00" width="29.03" height="1.00" fill="url(#lp)" opacity="0.132"/>
<rect x="34.05" y="399.00" width="28.98" height="1.00" fill="url(#lp)" opacity="0.134"/>
<rect x="34.05" y="400.00" width="28.92" height="1.00" fill="url(#lp)" opacity="0.137"/>
<rect x="34.04" y="401.00" width="28.87" height="1.00" fill="url(#lp)" opacity="0.139"/>
<rect x="34.03" y="402.00" width="28.81" height="1.00" fill="url(#lp)" opacity="0.142"/>
<rect x="34.03" y="403.00" width="28.75" height="1.00" fill="url(#lp)" opacity="0.144"/>
<rect x="34.02" y="404.00" width="28.70" height="1.00" fill="url(#lp)" opacity="0.146"/>
<rect x="34.02" y="405.00" width="28.64" height="1.00" fill="url(#lp)" opacity="0.149"/>
<rect x="34.01" y="406.00" width="28.58" height="1.00" fill="url(#lp)" opacity="0.153"/>
<rect x="34.00" y="407.00" width="28.53" height="1.00" fill="url(#lp)" opacity="0.158"/>
<rect x="34.00" y="408.00" width="28.47" height="1.00" fill="url(#lp)" opacity="0.164"/>
<rect x="33.99" y="409.00" width="28.42" height="1.00" fill="url(#lp)" opacity="0.170"/>
<rect x="33.98" y="410.00" width="28.36" height="1.00" fill="url(#lp)" opacity="0.176"/>
<rect x="33.98" y="411.00" width="28.30" height="1.00" fill="url(#lp)" opacity="0.181"/>
<rect x="33.97" y="412.00" width="28.25" height="1.00" fill="url(#lp)" opacity="0.185"/>
<rect x="33.97" y="413.00" width="28.19" height="1.00" fill="url(#lp)" opacity="0.188"/>
<rect x="33.96" y="414.00" width="28.13" height="1.00" fill="url(#lp)" opacity="0.191"/>
<rect x="33.95" y="415.00" width="28.08" height="1.00" fill="url(#lp)" opacity="0.194"/>
<rect x="33.95" y="416.00" width="28.02" height="1.00" fill="url(#lp)" opacity="0.197"/>
<rect x="33.94" y="417.00" width="27.97" height="1.00" fill="url(#lp)" opacity="0.200"/>
<rect x="33.93" y="418.00" width="27.91" height="1.00" fill="url(#lp)" opacity="0.206"/>
<rect x="33.93" y="419.00" width="27.85" height="1.00" fill="url(#lp)" opacity="0.216"/>
<rect x="33.92" y="420.00" width="27.80" height="1.00" fill="url(#lp)" opacity="0.225"/>
<rect x="33.92" y="421.00" width="27.74" height="1.00" fill="url(#lp)" opacity="0.235"/>
<rect x="33.91" y="422.00" width="27.68" height="1.00" fill="url(#lp)" opacity="0.245"/>
<rect x="33.90" y="423.00" width="27.63" height="1.00" fill="url(#lp)" opacity="0.255"/>
<rect x="33.90" y="424.00" width="27.57" height="1.00" fill="url(#lp)" opacity="0.264"/>
<rect x="33.89" y="425.00" width="27.52" height="1.00" fill="url(#lp)" opacity="0.266"/>
<rect x="33.88" y="426.00" width="27.46" height="1.00" fill="url(#lp)" opacity="0.261"/>
<rect x="33.88" y="427.00" width="27.40" height="1.00" fill="url(#lp)" opacity="0.255"/>
<rect x="33.87" y="428.00" width="27.35" height="1.00" fill="url(#lp)" opacity="0.249"/>
<rect x="33.87" y="429.00" width="27.29" height="1.00" fill="url(#lp)" opacity="0.244"/>
<rect x="33.86" y="430.00" width="27.23" height="1.00" fill="url(#lp)" opacity="0.238"/>
<rect x="33.85" y="431.00" width="27.18" height="1.00" fill="url(#lp)" opacity="0.231"/>
<rect x="33.85" y="432.00" width="27.12" height="1.00" fill="url(#lp)" opacity="0.221"/>
<rect x="33.84" y="433.00" width="27.07" height="1.00" fill="url(#lp)" opacity="0.212"/>
<rect x="33.83" y="434.00" width="27.01" height="1.00" fill="url(#lp)" opacity="0.202"/>
<rect x="33.83" y="435.00" width="26.95" height="1.00" fill="url(#lp)" opacity="0.193"/>
<rect x="33.82" y="436.00" width="26.90" height="1.00" fill="url(#lp)" opacity="0.184"/>
<rect x="33.82" y="437.00" width="26.84" height="1.00" fill="url(#lp)" opacity="0.174"/>
<rect x="33.81" y="438.00" width="26.78" height="1.00" fill="url(#lp)" opacity="0.165"/>
<rect x="33.80" y="439.00" width="26.73" height="1.00" fill="url(#lp)" opacity="0.155"/>
<rect x="33.79" y="440.00" width="26.69" height="1.00" fill="url(#lp)" opacity="0.147"/>
<rect x="33.78" y="441.00" width="26.68" height="1.00" fill="url(#lp)" opacity="0.141"/>
<rect x="33.77" y="442.00" width="26.67" height="1.00" fill="url(#lp)" opacity="0.135"/>
<rect x="33.76" y="443.00" width="26.66" height="1.00" fill="url(#lp)" opacity="0.128"/>
<rect x="33.75" y="444.00" width="26.65" height="1.00" fill="url(#lp)" opacity="0.122"/>
<rect x="33.73" y="445.00" width="26.64" height="1.00" fill="url(#lp)" opacity="0.116"/>
<rect x="33.72" y="446.00" width="26.63" height="1.00" fill="url(#lp)" opacity="0.109"/>
<rect x="33.71" y="447.00" width="26.62" height="1.00" fill="url(#lp)" opacity="0.103"/>
<rect x="33.70" y="448.00" width="26.61" height="1.00" fill="url(#lp)" opacity="0.097"/>
<rect x="33.69" y="449.00" width="26.59" height="1.00" fill="url(#lp)" opacity="0.090"/>
<rect x="33.67" y="450.00" width="26.58" height="1.00" fill="url(#lp)" opacity="0.086"/>
<rect x="33.66" y="451.00" width="26.57" height="1.00" fill="url(#lp)" opacity="0.082"/>
<rect x="33.65" y="452.00" width="26.56" height="1.00" fill="url(#lp)" opacity="0.079"/>
<rect x="33.64" y="453.00" width="26.55" height="1.00" fill="url(#lp)" opacity="0.076"/>
<rect x="33.63" y="454.00" width="26.54" height="1.00" fill="url(#lp)" opacity="0.073"/>
<rect x="33.61" y="455.00" width="26.53" height="1.00" fill="url(#lp)" opacity="0.070"/>
<rect x="33.60" y="456.00" width="26.52" height="1.00" fill="url(#lp)" opacity="0.067"/>
<rect x="33.59" y="457.00" width="26.51" height="1.00" fill="url(#lp)" opacity="0.064"/>
<rect x="33.58" y="458.00" width="26.49" height="1.00" fill="url(#lp)" opacity="0.061"/>
<rect x="33.57" y="459.00" width="26.48" height="1.00" fill="url(#lp)" opacity="0.058"/>
<rect x="33.55" y="460.00" width="26.47" height="1.00" fill="url(#lp)" opacity="0.055"/>
<rect x="33.54" y="461.00" width="26.46" height="1.00" fill="url(#lp)" opacity="0.051"/>
<rect x="33.53" y="462.00" width="26.45" height="1.00" fill="url(#lp)" opacity="0.048"/>
<rect x="33.52" y="463.00" width="26.44" height="1.00" fill="url(#lp)" opacity="0.045"/>
<rect x="33.51" y="464.00" width="26.43" height="1.00" fill="url(#lp)" opacity="0.042"/>
<rect x="33.49" y="465.00" width="26.42" height="1.00" fill="url(#lp)" opacity="0.041"/>
<rect x="33.48" y="466.00" width="26.41" height="1.00" fill="url(#lp)" opacity="0.040"/>
<rect x="33.47" y="467.00" width="26.39" height="1.00" fill="url(#lp)" opacity="0.040"/>
<rect x="33.46" y="468.00" width="26.38" height="1.00" fill="url(#lp)" opacity="0.040"/>
<rect x="33.44" y="469.00" width="26.37" height="1.00" fill="url(#lp)" opacity="0.039"/>
<rect x="33.43" y="470.00" width="26.36" height="1.00" fill="url(#lp)" opacity="0.039"/>
<rect x="33.42" y="471.00" width="26.35" height="1.00" fill="url(#lp)" opacity="0.039"/>
<rect x="33.41" y="472.00" width="26.34" height="1.00" fill="url(#lp)" opacity="0.038"/>
<rect x="33.40" y="473.00" width="26.33" height="1.00" fill="url(#lp)" opacity="0.038"/>
<rect x="33.38" y="474.00" width="26.32" height="1.00" fill="url(#lp)" opacity="0.038"/>
<rect x="33.37" y="475.00" width="26.31" height="1.00" fill="url(#lp)" opacity="0.037"/>
<rect x="33.36" y="476.00" width="26.29" height="1.00" fill="url(#lp)" opacity="0.037"/>
<rect x="33.35" y="477.00" width="26.28" height="1.00" fill="url(#lp)" opacity="0.037"/>
<rect x="33.34" y="478.00" width="26.27" height="1.00" fill="url(#lp)" opacity="0.036"/>
<rect x="33.32" y="479.00" width="26.26" height="1.00" fill="url(#lp)" opacity="0.036"/>
<rect x="33.31" y="480.00" width="26.25" height="1.00" fill="url(#lp)" opacity="0.036"/>
<rect x="33.30" y="481.00" width="26.24" height="1.00" fill="url(#lp)" opacity="0.035"/>
<rect x="33.29" y="482.00" width="26.23" height="1.00" fill="url(#lp)" opacity="0.035"/>
<rect x="33.28" y="483.00" width="26.22" height="1.00" fill="url(#lp)" opacity="0.035"/>
<rect x="33.26" y="484.00" width="26.21" height="1.00" fill="url(#lp)" opacity="0.034"/>
<rect x="33.25" y="485.00" width="26.19" height="1.00" fill="url(#lp)" opacity="0.034"/>
<rect x="33.24" y="486.00" width="26.18" height="1.00" fill="url(#lp)" opacity="0.034"/>
<rect x="33.23" y="487.00" width="26.17" height="1.00" fill="url(#lp)" opacity="0.033"/>
<rect x="33.22" y="488.00" width="26.16" height="1.00" fill="url(#lp)" opacity="0.033"/>
<rect x="33.20" y="489.00" width="26.15" height="1.00" fill="url(#lp)" opacity="0.033"/>
<rect x="33.19" y="490.00" width="26.14" height="1.00" fill="url(#lp)" opacity="0.033"/>
<rect x="33.18" y="491.00" width="26.13" height="1.00" fill="url(#lp)" opacity="0.033"/>
<rect x="33.17" y="492.00" width="26.12" height="1.00" fill="url(#lp)" opacity="0.034"/>
<rect x="33.16" y="493.00" width="26.11" height="1.00" fill="url(#lp)" opacity="0.035"/>
<rect x="33.14" y="494.00" width="26.09" height="1.00" fill="url(#lp)" opacity="0.035"/>
<rect x="33.13" y="495.00" width="26.08" height="1.00" fill="url(#lp)" opacity="0.036"/>
<rect x="33.12" y="496.00" width="26.07" height="1.00" fill="url(#lp)" opacity="0.036"/>
<rect x="33.11" y="497.00" width="26.06" height="1.00" fill="url(#lp)" opacity="0.037"/>
<rect x="33.10" y="498.00" width="26.05" height="1.00" fill="url(#lp)" opacity="0.037"/>
<rect x="33.08" y="499.00" width="26.04" height="1.00" fill="url(#lp)" opacity="0.038"/>
<rect x="33.07" y="500.00" width="26.03" height="1.00" fill="url(#lp)" opacity="0.038"/>
<rect x="33.06" y="501.00" width="26.02" height="1.00" fill="url(#lp)" opacity="0.039"/>
<rect x="33.05" y="502.00" width="26.01" height="1.00" fill="url(#lp)" opacity="0.039"/>
<rect x="33.04" y="503.00" width="25.99" height="1.00" fill="url(#lp)" opacity="0.040"/>
<rect x="33.02" y="504.00" width="25.98" height="1.00" fill="url(#lp)" opacity="0.040"/>
<rect x="33.01" y="505.00" width="25.97" height="1.00" fill="url(#lp)" opacity="0.041"/>
<rect x="33.00" y="506.00" width="25.96" height="1.00" fill="url(#lp)" opacity="0.041"/>
<rect x="32.99" y="507.00" width="25.95" height="1.00" fill="url(#lp)" opacity="0.041"/>
<rect x="32.98" y="508.00" width="25.94" height="1.00" fill="url(#lp)" opacity="0.039"/>
<rect x="32.96" y="509.00" width="25.93" height="1.00" fill="url(#lp)" opacity="0.038"/>
<rect x="32.95" y="510.00" width="25.92" height="1.00" fill="url(#lp)" opacity="0.036"/>
<rect x="32.94" y="511.00" width="25.91" height="1.00" fill="url(#lp)" opacity="0.034"/>
<rect x="32.93" y="512.00" width="25.89" height="1.00" fill="url(#lp)" opacity="0.033"/>
<rect x="32.92" y="513.00" width="25.88" height="1.00" fill="url(#lp)" opacity="0.031"/>
<rect x="32.90" y="514.00" width="25.87" height="1.00" fill="url(#lp)" opacity="0.029"/>
<rect x="32.89" y="515.00" width="25.86" height="1.00" fill="url(#lp)" opacity="0.028"/>
<rect x="32.88" y="516.00" width="25.85" height="1.00" fill="url(#lp)" opacity="0.026"/>
<rect x="32.87" y="517.00" width="25.84" height="1.00" fill="url(#lp)" opacity="0.025"/>
<rect x="32.86" y="518.00" width="25.83" height="1.00" fill="url(#lp)" opacity="0.023"/>
<rect x="32.84" y="519.00" width="25.82" height="1.00" fill="url(#lp)" opacity="0.021"/>
<rect x="32.83" y="520.00" width="25.81" height="1.00" fill="url(#lp)" opacity="0.020"/>
<rect x="32.82" y="521.00" width="25.79" height="1.00" fill="url(#lp)" opacity="0.020"/>
<rect x="32.81" y="522.00" width="25.78" height="1.00" fill="url(#lp)" opacity="0.019"/>
<rect x="32.79" y="523.00" width="25.77" height="1.00" fill="url(#lp)" opacity="0.019"/>
<rect x="32.78" y="524.00" width="25.76" height="1.00" fill="url(#lp)" opacity="0.018"/>
<rect x="32.77" y="525.00" width="25.75" height="1.00" fill="url(#lp)" opacity="0.017"/>
<rect x="32.76" y="526.00" width="25.74" height="1.00" fill="url(#lp)" opacity="0.017"/>
<rect x="32.75" y="527.00" width="25.73" height="1.00" fill="url(#lp)" opacity="0.016"/>
<rect x="32.73" y="528.00" width="25.72" height="1.00" fill="url(#lp)" opacity="0.016"/>
<rect x="32.72" y="529.00" width="25.71" height="1.00" fill="url(#lp)" opacity="0.015"/>
<rect x="32.71" y="530.00" width="25.69" height="1.00" fill="url(#lp)" opacity="0.014"/>
<rect x="32.70" y="531.00" width="25.68" height="1.00" fill="url(#lp)" opacity="0.014"/>
<rect x="32.69" y="532.00" width="25.67" height="1.00" fill="url(#lp)" opacity="0.013"/>
<rect x="32.67" y="533.00" width="25.66" height="1.00" fill="url(#lp)" opacity="0.013"/>
<rect x="32.66" y="534.00" width="25.65" height="1.00" fill="url(#lp)" opacity="0.012"/>
<rect x="32.65" y="535.00" width="25.64" height="1.00" fill="url(#lp)" opacity="0.012"/>
<rect x="32.64" y="536.00" width="25.63" height="1.00" fill="url(#lp)" opacity="0.011"/>
<rect x="32.63" y="537.00" width="25.62" height="1.00" fill="url(#lp)" opacity="0.010"/>
<rect x="32.61" y="538.00" width="25.61" height="1.00" fill="url(#lp)" opacity="0.010"/>
<rect x="32.60" y="539.00" width="25.59" height="1.00" fill="url(#lp)" opacity="0.009"/>
<rect x="32.59" y="540.00" width="25.58" height="1.00" fill="url(#lp)" opacity="0.009"/>
<rect x="32.58" y="541.00" width="25.57" height="1.00" fill="url(#lp)" opacity="0.008"/>
<rect x="32.57" y="542.00" width="25.56" height="1.00" fill="url(#lp)" opacity="0.007"/>
<rect x="32.55" y="543.00" width="25.55" height="1.00" fill="url(#lp)" opacity="0.007"/>
<rect x="32.54" y="544.00" width="25.54" height="1.00" fill="url(#lp)" opacity="0.006"/>
<rect x="32.53" y="545.00" width="25.53" height="1.00" fill="url(#lp)" opacity="0.006"/>
<rect x="32.52" y="546.00" width="25.52" height="1.00" fill="url(#lp)" opacity="0.005"/>
<rect x="32.51" y="547.00" width="25.51" height="1.00" fill="url(#lp)" opacity="0.005"/>
<rect x="32.50" y="548.00" width="25.50" height="0.80" fill="url(#lp)" opacity="0.004"/>
<rect x="93.41" y="30.00" width="34.55" height="1.00" fill="url(#lp)" opacity="0.001"/>
<rect x="93.39" y="31.00" width="34.56" height="1.00" fill="url(#lp)" opacity="0.004"/>
<rect x="93.37" y="32.00" width="34.58" height="1.00" fill="url(#lp)" opacity="0.007"/>
<rect x="93.35" y="33.00" width="34.58" height="1.00" fill="url(#lp)" opacity="0.010"/>
<rect x="93.34" y="34.00" width="34.60" height="1.00" fill="url(#lp)" opacity="0.013"/>
<rect x="93.32" y="35.00" width="34.61" height="1.00" fill="url(#lp)" opacity="0.016"/>
<rect x="93.30" y="36.00" width="34.62" height="1.00" fill="url(#lp)" opacity="0.019"/>
<rect x="93.28" y="37.00" width="34.62" height="1.00" fill="url(#lp)" opacity="0.022"/>
<rect x="93.27" y="38.00" width="34.64" height="1.00" fill="url(#lp)" opacity="0.025"/>
<rect x="93.25" y="39.00" width="34.64" height="1.00" fill="url(#lp)" opacity="0.027"/>
<rect x="93.23" y="40.00" width="34.66" height="1.00" fill="url(#lp)" opacity="0.030"/>
<rect x="93.22" y="41.00" width="34.66" height="1.00" fill="url(#lp)" opacity="0.032"/>
<rect x="93.20" y="42.00" width="34.67" height="1.00" fill="url(#lp)" opacity="0.035"/>
<rect x="93.18" y="43.00" width="34.69" height="1.00" fill="url(#lp)" opacity="0.037"/>
<rect x="93.16" y="44.00" width="34.70" height="1.00" fill="url(#lp)" opacity="0.040"/>
<rect x="93.15" y="45.00" width="34.70" height="1.00" fill="url(#lp)" opacity="0.043"/>
<rect x="93.13" y="46.00" width="34.72" height="1.00" fill="url(#lp)" opacity="0.045"/>
<rect x="93.11" y="47.00" width="34.73" height="1.00" fill="url(#lp)" opacity="0.048"/>
<rect x="93.09" y="48.00" width="34.73" height="1.00" fill="url(#lp)" opacity="0.050"/>
<rect x="93.08" y="49.00" width="34.75" height="1.00" fill="url(#lp)" opacity="0.053"/>
<rect x="93.06" y="50.00" width="34.75" height="1.00" fill="url(#lp)" opacity="0.056"/>
<rect x="93.04" y="51.00" width="34.77" height="1.00" fill="url(#lp)" opacity="0.059"/>
<rect x="93.03" y="52.00" width="34.77" height="1.00" fill="url(#lp)" opacity="0.062"/>
<rect x="93.01" y="53.00" width="34.79" height="1.00" fill="url(#lp)" opacity="0.066"/>
<rect x="92.99" y="54.00" width="34.80" height="1.00" fill="url(#lp)" opacity="0.069"/>
<rect x="92.97" y="55.00" width="34.81" height="1.00" fill="url(#lp)" opacity="0.072"/>
<rect x="92.96" y="56.00" width="34.81" height="1.00" fill="url(#lp)" opacity="0.076"/>
<rect x="92.94" y="57.00" width="34.83" height="1.00" fill="url(#lp)" opacity="0.079"/>
<rect x="92.92" y="58.00" width="34.83" height="1.00" fill="url(#lp)" opacity="0.082"/>
<rect x="92.90" y="59.00" width="34.84" height="1.00" fill="url(#lp)" opacity="0.086"/>
<rect x="92.89" y="60.00" width="34.86" height="1.00" fill="url(#lp)" opacity="0.089"/>
<rect x="92.87" y="61.00" width="34.86" height="1.00" fill="url(#lp)" opacity="0.093"/>
<rect x="92.85" y="62.00" width="34.88" height="1.00" fill="url(#lp)" opacity="0.098"/>
<rect x="92.83" y="63.00" width="34.89" height="1.00" fill="url(#lp)" opacity="0.102"/>
<rect x="92.82" y="64.00" width="34.90" height="1.00" fill="url(#lp)" opacity="0.106"/>
<rect x="92.80" y="65.00" width="34.91" height="1.00" fill="url(#lp)" opacity="0.110"/>
<rect x="92.78" y="66.00" width="34.92" height="1.00" fill="url(#lp)" opacity="0.115"/>
<rect x="92.77" y="67.00" width="34.92" height="1.00" fill="url(#lp)" opacity="0.119"/>
<rect x="92.75" y="68.00" width="34.94" height="1.00" fill="url(#lp)" opacity="0.123"/>
<rect x="92.73" y="69.00" width="34.94" height="1.00" fill="url(#lp)" opacity="0.127"/>
<rect x="92.71" y="70.00" width="34.95" height="1.00" fill="url(#lp)" opacity="0.132"/>
<rect x="92.70" y="71.00" width="34.97" height="1.00" fill="url(#lp)" opacity="0.137"/>
<rect x="92.68" y="72.00" width="34.98" height="1.00" fill="url(#lp)" opacity="0.143"/>
<rect x="92.66" y="73.00" width="34.99" height="1.00" fill="url(#lp)" opacity="0.148"/>
<rect x="92.64" y="74.00" width="35.00" height="1.00" fill="url(#lp)" opacity="0.153"/>
<rect x="92.63" y="75.00" width="35.01" height="1.00" fill="url(#lp)" opacity="0.159"/>
<rect x="92.61" y="76.00" width="35.02" height="1.00" fill="url(#lp)" opacity="0.164"/>
<rect x="92.59" y="77.00" width="35.03" height="1.00" fill="url(#lp)" opacity="0.169"/>
<rect x="92.58" y="78.00" width="35.03" height="1.00" fill="url(#lp)" opacity="0.175"/>
<rect x="92.56" y="79.00" width="35.05" height="1.00" fill="url(#lp)" opacity="0.180"/>
<rect x="92.54" y="80.00" width="35.06" height="1.00" fill="url(#lp)" opacity="0.185"/>
<rect x="92.52" y="81.00" width="35.07" height="1.00" fill="url(#lp)" opacity="0.191"/>
<rect x="92.51" y="82.00" width="35.08" height="1.00" fill="url(#lp)" opacity="0.196"/>
<rect x="92.49" y="83.00" width="35.09" height="1.00" fill="url(#lp)" opacity="0.201"/>
<rect x="92.47" y="84.00" width="35.09" height="1.00" fill="url(#lp)" opacity="0.207"/>
<rect x="92.45" y="85.00" width="35.11" height="1.00" fill="url(#lp)" opacity="0.213"/>
<rect x="92.44" y="86.00" width="35.11" height="1.00" fill="url(#lp)" opacity="0.219"/>
<rect x="92.42" y="87.00" width="35.12" height="1.00" fill="url(#lp)" opacity="0.225"/>
<rect x="92.40" y="88.00" width="35.14" height="1.00" fill="url(#lp)" opacity="0.232"/>
<rect x="92.39" y="89.00" width="35.15" height="1.00" fill="url(#lp)" opacity="0.238"/>
<rect x="92.37" y="90.00" width="35.16" height="1.00" fill="url(#lp)" opacity="0.244"/>
<rect x="92.35" y="91.00" width="35.17" height="1.00" fill="url(#lp)" opacity="0.250"/>
<rect x="92.33" y="92.00" width="35.18" height="1.00" fill="url(#lp)" opacity="0.257"/>
<rect x="92.32" y="93.00" width="35.19" height="1.00" fill="url(#lp)" opacity="0.263"/>
<rect x="92.30" y="94.00" width="35.20" height="1.00" fill="url(#lp)" opacity="0.269"/>
<rect x="92.28" y="95.00" width="35.20" height="1.00" fill="url(#lp)" opacity="0.274"/>
<rect x="92.27" y="96.00" width="35.22" height="1.00" fill="url(#lp)" opacity="0.276"/>
<rect x="92.25" y="97.00" width="35.22" height="1.00" fill="url(#lp)" opacity="0.278"/>
<rect x="92.23" y="98.00" width="35.24" height="1.00" fill="url(#lp)" opacity="0.282"/>
<rect x="92.21" y="99.00" width="35.25" height="1.00" fill="url(#lp)" opacity="0.291"/>
<rect x="92.20" y="100.00" width="35.26" height="1.00" fill="url(#lp)" opacity="0.299"/>
<rect x="92.18" y="101.00" width="35.27" height="1.00" fill="url(#lp)" opacity="0.299"/>
<rect x="92.16" y="102.00" width="35.28" height="1.00" fill="url(#lp)" opacity="0.294"/>
<rect x="92.14" y="103.00" width="35.29" height="1.00" fill="url(#lp)" opacity="0.290"/>
<rect x="92.13" y="104.00" width="35.30" height="1.00" fill="url(#lp)" opacity="0.296"/>
<rect x="92.11" y="105.00" width="35.31" height="1.00" fill="url(#lp)" opacity="0.312"/>
<rect x="92.09" y="106.00" width="35.31" height="1.00" fill="url(#lp)" opacity="0.324"/>
<rect x="92.07" y="107.00" width="35.33" height="1.00" fill="url(#lp)" opacity="0.325"/>
<rect x="92.06" y="108.00" width="35.34" height="1.00" fill="url(#lp)" opacity="0.317"/>
<rect x="92.04" y="109.00" width="35.35" height="1.00" fill="url(#lp)" opacity="0.310"/>
<rect x="92.02" y="110.00" width="35.36" height="1.00" fill="url(#lp)" opacity="0.314"/>
<rect x="92.01" y="111.00" width="35.37" height="1.00" fill="url(#lp)" opacity="0.328"/>
<rect x="91.99" y="112.00" width="35.38" height="1.00" fill="url(#lp)" opacity="0.342"/>
<rect x="91.97" y="113.00" width="35.39" height="1.00" fill="url(#lp)" opacity="0.346"/>
<rect x="91.95" y="114.00" width="35.40" height="1.00" fill="url(#lp)" opacity="0.340"/>
<rect x="91.94" y="115.00" width="35.41" height="1.00" fill="url(#lp)" opacity="0.331"/>
<rect x="91.92" y="116.00" width="35.42" height="1.00" fill="url(#lp)" opacity="0.330"/>
<rect x="91.90" y="117.00" width="35.43" height="1.00" fill="url(#lp)" opacity="0.342"/>
<rect x="91.88" y="118.00" width="35.44" height="1.00" fill="url(#lp)" opacity="0.358"/>
<rect x="91.87" y="119.00" width="35.45" height="1.00" fill="url(#lp)" opacity="0.366"/>
<rect x="91.85" y="120.00" width="35.46" height="1.00" fill="url(#lp)" opacity="0.361"/>
<rect x="91.83" y="121.00" width="35.47" height="1.00" fill="url(#lp)" opacity="0.350"/>
<rect x="91.82" y="122.00" width="35.48" height="1.00" fill="url(#lp)" opacity="0.345"/>
<rect x="91.80" y="123.00" width="35.48" height="1.00" fill="url(#lp)" opacity="0.353"/>
<rect x="91.78" y="124.00" width="35.50" height="1.00" fill="url(#lp)" opacity="0.367"/>
<rect x="91.76" y="125.00" width="35.50" height="1.00" fill="url(#lp)" opacity="0.377"/>
<rect x="91.75" y="126.00" width="35.52" height="1.00" fill="url(#lp)" opacity="0.375"/>
<rect x="91.73" y="127.00" width="35.53" height="1.00" fill="url(#lp)" opacity="0.365"/>
<rect x="91.71" y="128.00" width="35.54" height="1.00" fill="url(#lp)" opacity="0.358"/>
<rect x="91.69" y="129.00" width="35.55" height="1.00" fill="url(#lp)" opacity="0.362"/>
<rect x="91.68" y="130.00" width="35.56" height="1.00" fill="url(#lp)" opacity="0.376"/>
<rect x="91.66" y="131.00" width="35.57" height="1.00" fill="url(#lp)" opacity="0.390"/>
<rect x="91.64" y="132.00" width="35.58" height="1.00" fill="url(#lp)" opacity="0.395"/>
<rect x="91.63" y="133.00" width="35.59" height="1.00" fill="url(#lp)" opacity="0.389"/>
<rect x="91.61" y="134.00" width="35.59" height="1.00" fill="url(#lp)" opacity="0.384"/>
<rect x="91.58" y="135.00" width="35.60" height="1.00" fill="url(#lp)" opacity="0.390"/>
<rect x="91.55" y="136.00" width="35.59" height="1.00" fill="url(#lp)" opacity="0.408"/>
<rect x="91.52" y="137.00" width="35.59" height="1.00" fill="url(#lp)" opacity="0.430"/>
<rect x="91.49" y="138.00" width="35.58" height="1.00" fill="url(#lp)" opacity="0.443"/>
<rect x="91.46" y="139.00" width="35.58" height="1.00" fill="url(#lp)" opacity="0.444"/>
<rect x="91.43" y="140.00" width="35.57" height="1.00" fill="url(#lp)" opacity="0.439"/>
<rect x="91.40" y="141.00" width="35.57" height="1.00" fill="url(#lp)" opacity="0.439"/>
<rect x="91.37" y="142.00" width="35.56" height="1.00" fill="url(#lp)" opacity="0.448"/>
<rect x="91.34" y="143.00" width="35.55" height="1.00" fill="url(#lp)" opacity="0.461"/>
<rect x="91.31" y="144.00" width="35.55" height="1.00" fill="url(#lp)" opacity="0.467"/>
<rect x="91.28" y="145.00" width="35.54" height="1.00" fill="url(#lp)" opacity="0.462"/>
<rect x="91.25" y="146.00" width="35.54" height="1.00" fill="url(#lp)" opacity="0.453"/>
<rect x="91.22" y="147.00" width="35.53" height="1.00" fill="url(#lp)" opacity="0.450"/>
<rect x="91.19" y="148.00" width="35.53" height="1.00" fill="url(#lp)" opacity="0.462"/>
<rect x="91.16" y="149.00" width="35.52" height="1.00" fill="url(#lp)" opacity="0.486"/>
<rect x="91.12" y="150.00" width="35.52" height="1.00" fill="url(#lp)" opacity="0.511"/>
<rect x="91.09" y="151.00" width="35.51" height="1.00" fill="url(#lp)" opacity="0.527"/>
<rect x="91.06" y="152.00" width="35.51" height="1.00" fill="url(#lp)" opacity="0.534"/>
<rect x="91.03" y="153.00" width="35.50" height="1.00" fill="url(#lp)" opacity="0.541"/>
<rect x="91.00" y="154.00" width="35.50" height="1.00" fill="url(#lp)" opacity="0.554"/>
<rect x="90.97" y="155.00" width="35.49" height="1.00" fill="url(#lp)" opacity="0.575"/>
<rect x="90.94" y="156.00" width="35.49" height="1.00" fill="url(#lp)" opacity="0.592"/>
<rect x="90.91" y="157.00" width="35.48" height="1.00" fill="url(#lp)" opacity="0.595"/>
<rect x="90.88" y="158.00" width="35.47" height="1.00" fill="url(#lp)" opacity="0.585"/>
<rect x="90.85" y="159.00" width="35.47" height="1.00" fill="url(#lp)" opacity="0.570"/>
<rect x="90.82" y="160.00" width="35.46" height="1.00" fill="url(#lp)" opacity="0.563"/>
<rect x="90.79" y="161.00" width="35.46" height="1.00" fill="url(#lp)" opacity="0.568"/>
<rect x="90.76" y="162.00" width="35.45" height="1.00" fill="url(#lp)" opacity="0.584"/>
<rect x="90.73" y="163.00" width="35.45" height="1.00" fill="url(#lp)" opacity="0.598"/>
<rect x="90.70" y="164.00" width="35.44" height="1.00" fill="url(#lp)" opacity="0.604"/>
<rect x="90.66" y="165.00" width="35.44" height="1.00" fill="url(#lp)" opacity="0.606"/>
<rect x="90.63" y="166.00" width="35.43" height="1.00" fill="url(#lp)" opacity="0.614"/>
<rect x="90.60" y="167.00" width="35.43" height="1.00" fill="url(#lp)" opacity="0.631"/>
<rect x="90.57" y="168.00" width="35.42" height="1.00" fill="url(#lp)" opacity="0.651"/>
<rect x="90.54" y="169.00" width="35.42" height="1.00" fill="url(#lp)" opacity="0.663"/>
<rect x="90.51" y="170.00" width="35.41" height="1.00" fill="url(#lp)" opacity="0.658"/>
<rect x="90.48" y="171.00" width="35.41" height="1.00" fill="url(#lp)" opacity="0.639"/>
<rect x="90.45" y="172.00" width="35.40" height="1.00" fill="url(#lp)" opacity="0.619"/>
<rect x="90.42" y="173.00" width="35.39" height="1.00" fill="url(#lp)" opacity="0.610"/>
<rect x="90.39" y="174.00" width="35.39" height="1.00" fill="url(#lp)" opacity="0.613"/>
<rect x="90.36" y="175.00" width="35.38" height="1.00" fill="url(#lp)" opacity="0.618"/>
<rect x="90.33" y="176.00" width="35.38" height="1.00" fill="url(#lp)" opacity="0.617"/>
<rect x="90.30" y="177.00" width="35.37" height="1.00" fill="url(#lp)" opacity="0.611"/>
<rect x="90.27" y="178.00" width="35.37" height="1.00" fill="url(#lp)" opacity="0.607"/>
<rect x="90.24" y="179.00" width="35.36" height="1.00" fill="url(#lp)" opacity="0.616"/>
<rect x="90.20" y="180.00" width="35.36" height="1.00" fill="url(#lp)" opacity="0.639"/>
<rect x="90.17" y="181.00" width="35.35" height="1.00" fill="url(#lp)" opacity="0.665"/>
<rect x="90.14" y="182.00" width="35.35" height="1.00" fill="url(#lp)" opacity="0.681"/>
<rect x="90.11" y="183.00" width="35.34" height="1.00" fill="url(#lp)" opacity="0.680"/>
<rect x="90.08" y="184.00" width="35.34" height="1.00" fill="url(#lp)" opacity="0.668"/>
<rect x="90.05" y="185.00" width="35.33" height="1.00" fill="url(#lp)" opacity="0.657"/>
<rect x="90.02" y="186.00" width="35.33" height="1.00" fill="url(#lp)" opacity="0.653"/>
<rect x="89.99" y="187.00" width="35.32" height="1.00" fill="url(#lp)" opacity="0.653"/>
<rect x="89.96" y="188.00" width="35.31" height="1.00" fill="url(#lp)" opacity="0.648"/>
<rect x="89.93" y="189.00" width="35.31" height="1.00" fill="url(#lp)" opacity="0.634"/>
<rect x="89.90" y="190.00" width="35.30" height="1.00" fill="url(#lp)" opacity="0.615"/>
<rect x="89.87" y="191.00" width="35.30" height="1.00" fill="url(#lp)" opacity="0.606"/>
<rect x="89.84" y="192.00" width="35.29" height="1.00" fill="url(#lp)" opacity="0.612"/>
<rect x="89.81" y="193.00" width="35.29" height="1.00" fill="url(#lp)" opacity="0.629"/>
<rect x="89.78" y="194.00" width="35.28" height="1.00" fill="url(#lp)" opacity="0.647"/>
<rect x="89.74" y="195.00" width="35.28" height="1.00" fill="url(#lp)" opacity="0.661"/>
<rect x="89.71" y="196.00" width="35.27" height="1.00" fill="url(#lp)" opacity="0.670"/>
<rect x="89.68" y="197.00" width="35.27" height="1.00" fill="url(#lp)" opacity="0.679"/>
<rect x="89.65" y="198.00" width="35.26" height="1.00" fill="url(#lp)" opacity="0.686"/>
<rect x="89.62" y="199.00" width="35.26" height="1.00" fill="url(#lp)" opacity="0.689"/>
<rect x="89.59" y="200.00" width="35.25" height="1.00" fill="url(#lp)" opacity="0.684"/>
<rect x="89.56" y="201.00" width="35.25" height="1.00" fill="url(#lp)" opacity="0.674"/>
<rect x="89.53" y="202.00" width="35.24" height="1.00" fill="url(#lp)" opacity="0.660"/>
<rect x="89.50" y="203.00" width="35.23" height="1.00" fill="url(#lp)" opacity="0.645"/>
<rect x="89.47" y="204.00" width="35.23" height="1.00" fill="url(#lp)" opacity="0.630"/>
<rect x="89.44" y="205.00" width="35.22" height="1.00" fill="url(#lp)" opacity="0.618"/>
<rect x="89.41" y="206.00" width="35.22" height="1.00" fill="url(#lp)" opacity="0.608"/>
<rect x="89.38" y="207.00" width="35.21" height="1.00" fill="url(#lp)" opacity="0.602"/>
<rect x="89.35" y="208.00" width="35.21" height="1.00" fill="url(#lp)" opacity="0.598"/>
<rect x="89.32" y="209.00" width="35.20" height="1.00" fill="url(#lp)" opacity="0.596"/>
<rect x="89.27" y="210.00" width="35.20" height="1.00" fill="url(#lp)" opacity="0.597"/>
<rect x="89.22" y="211.00" width="35.21" height="1.00" fill="url(#lp)" opacity="0.599"/>
<rect x="89.16" y="212.00" width="35.22" height="1.00" fill="url(#lp)" opacity="0.603"/>
<rect x="89.10" y="213.00" width="35.22" height="1.00" fill="url(#lp)" opacity="0.610"/>
<rect x="89.05" y="214.00" width="35.23" height="1.00" fill="url(#lp)" opacity="0.620"/>
<rect x="88.99" y="215.00" width="35.23" height="1.00" fill="url(#lp)" opacity="0.632"/>
<rect x="88.94" y="216.00" width="35.24" height="1.00" fill="url(#lp)" opacity="0.648"/>
<rect x="88.88" y="217.00" width="35.25" height="1.00" fill="url(#lp)" opacity="0.665"/>
<rect x="88.82" y="218.00" width="35.25" height="1.00" fill="url(#lp)" opacity="0.683"/>
<rect x="88.77" y="219.00" width="35.26" height="1.00" fill="url(#lp)" opacity="0.699"/>
<rect x="88.71" y="220.00" width="35.26" height="1.00" fill="url(#lp)" opacity="0.712"/>
<rect x="88.66" y="221.00" width="35.27" height="1.00" fill="url(#lp)" opacity="0.719"/>
<rect x="88.60" y="222.00" width="35.28" height="1.00" fill="url(#lp)" opacity="0.719"/>
<rect x="88.54" y="223.00" width="35.28" height="1.00" fill="url(#lp)" opacity="0.714"/>
<rect x="88.49" y="224.00" width="35.29" height="1.00" fill="url(#lp)" opacity="0.703"/>
<rect x="88.43" y="225.00" width="35.29" height="1.00" fill="url(#lp)" opacity="0.689"/>
<rect x="88.38" y="226.00" width="35.30" height="1.00" fill="url(#lp)" opacity="0.673"/>
<rect x="88.32" y="227.00" width="35.31" height="1.00" fill="url(#lp)" opacity="0.657"/>
<rect x="88.26" y="228.00" width="35.31" height="1.00" fill="url(#lp)" opacity="0.644"/>
<rect x="88.21" y="229.00" width="35.32" height="1.00" fill="url(#lp)" opacity="0.633"/>
<rect x="88.15" y="230.00" width="35.32" height="1.00" fill="url(#lp)" opacity="0.625"/>
<rect x="88.10" y="231.00" width="35.33" height="1.00" fill="url(#lp)" opacity="0.620"/>
<rect x="88.04" y="232.00" width="35.34" height="1.00" fill="url(#lp)" opacity="0.616"/>
<rect x="87.98" y="233.00" width="35.34" height="1.00" fill="url(#lp)" opacity="0.615"/>
<rect x="87.93" y="234.00" width="35.35" height="1.00" fill="url(#lp)" opacity="0.615"/>
<rect x="87.87" y="235.00" width="35.35" height="1.00" fill="url(#lp)" opacity="0.616"/>
<rect x="87.82" y="236.00" width="35.36" height="1.00" fill="url(#lp)" opacity="0.618"/>
<rect x="87.76" y="237.00" width="35.36" height="1.00" fill="url(#lp)" opacity="0.621"/>
<rect x="87.70" y="238.00" width="35.37" height="1.00" fill="url(#lp)" opacity="0.627"/>
<rect x="87.65" y="239.00" width="35.38" height="1.00" fill="url(#lp)" opacity="0.636"/>
<rect x="87.59" y="240.00" width="35.38" height="1.00" fill="url(#lp)" opacity="0.648"/>
<rect x="87.54" y="241.00" width="35.39" height="1.00" fill="url(#lp)" opacity="0.662"/>
<rect x="87.48" y="242.00" width="35.39" height="1.00" fill="url(#lp)" opacity="0.678"/>
<rect x="87.42" y="243.00" width="35.40" height="1.00" fill="url(#lp)" opacity="0.695"/>
<rect x="87.37" y="244.00" width="35.41" height="1.00" fill="url(#lp)" opacity="0.711"/>
<rect x="87.31" y="245.00" width="35.41" height="1.00" fill="url(#lp)" opacity="0.723"/>
<rect x="87.26" y="246.00" width="35.42" height="1.00" fill="url(#lp)" opacity="0.730"/>
<rect x="87.20" y="247.00" width="35.42" height="1.00" fill="url(#lp)" opacity="0.730"/>
<rect x="87.14" y="248.00" width="35.43" height="1.00" fill="url(#lp)" opacity="0.723"/>
<rect x="87.09" y="249.00" width="35.44" height="1.00" fill="url(#lp)" opacity="0.711"/>
<rect x="87.03" y="250.00" width="35.44" height="1.00" fill="url(#lp)" opacity="0.697"/>
<rect x="86.98" y="251.00" width="35.45" height="1.00" fill="url(#lp)" opacity="0.682"/>
<rect x="86.92" y="252.00" width="35.45" height="1.00" fill="url(#lp)" opacity="0.668"/>
<rect x="86.86" y="253.00" width="35.46" height="1.00" fill="url(#lp)" opacity="0.655"/>
<rect x="86.81" y="254.00" width="35.47" height="1.00" fill="url(#lp)" opacity="0.645"/>
<rect x="86.75" y="255.00" width="35.47" height="1.00" fill="url(#lp)" opacity="0.640"/>
<rect x="86.70" y="256.00" width="35.48" height="1.00" fill="url(#lp)" opacity="0.640"/>
<rect x="86.64" y="257.00" width="35.48" height="1.00" fill="url(#lp)" opacity="0.642"/>
<rect x="86.58" y="258.00" width="35.49" height="1.00" fill="url(#lp)" opacity="0.642"/>
<rect x="86.53" y="259.00" width="35.50" height="1.00" fill="url(#lp)" opacity="0.637"/>
<rect x="86.47" y="260.00" width="35.51" height="1.00" fill="url(#lp)" opacity="0.634"/>
<rect x="86.42" y="261.00" width="35.53" height="1.00" fill="url(#lp)" opacity="0.630"/>
<rect x="86.38" y="262.00" width="35.56" height="1.00" fill="url(#lp)" opacity="0.627"/>
<rect x="86.33" y="263.00" width="35.58" height="1.00" fill="url(#lp)" opacity="0.624"/>
<rect x="86.28" y="264.00" width="35.60" height="1.00" fill="url(#lp)" opacity="0.620"/>
<rect x="86.22" y="265.00" width="35.63" height="1.00" fill="url(#lp)" opacity="0.619"/>
<rect x="86.17" y="266.00" width="35.65" height="1.00" fill="url(#lp)" opacity="0.620"/>
<rect x="86.12" y="267.00" width="35.67" height="1.00" fill="url(#lp)" opacity="0.621"/>
<rect x="86.08" y="268.00" width="35.70" height="1.00" fill="url(#lp)" opacity="0.619"/>
<rect x="86.03" y="269.00" width="35.72" height="1.00" fill="url(#lp)" opacity="0.616"/>
<rect x="85.97" y="270.00" width="35.75" height="1.00" fill="url(#lp)" opacity="0.621"/>
<rect x="85.92" y="271.00" width="35.77" height="1.00" fill="url(#lp)" opacity="0.634"/>
<rect x="85.88" y="272.00" width="35.79" height="1.00" fill="url(#lp)" opacity="0.647"/>
<rect x="85.83" y="273.00" width="35.81" height="1.00" fill="url(#lp)" opacity="0.659"/>
<rect x="85.78" y="274.00" width="35.84" height="1.00" fill="url(#lp)" opacity="0.672"/>
<rect x="85.72" y="275.00" width="35.86" height="1.00" fill="url(#lp)" opacity="0.685"/>
<rect x="85.67" y="276.00" width="35.89" height="1.00" fill="url(#lp)" opacity="0.695"/>
<rect x="85.62" y="277.00" width="35.91" height="1.00" fill="url(#lp)" opacity="0.701"/>
<rect x="85.58" y="278.00" width="35.93" height="1.00" fill="url(#lp)" opacity="0.708"/>
<rect x="85.53" y="279.00" width="35.95" height="1.00" fill="url(#lp)" opacity="0.714"/>
<rect x="85.47" y="280.00" width="35.98" height="1.00" fill="url(#lp)" opacity="0.721"/>
<rect x="85.42" y="281.00" width="36.00" height="1.00" fill="url(#lp)" opacity="0.727"/>
<rect x="85.38" y="282.00" width="36.03" height="1.00" fill="url(#lp)" opacity="0.734"/>
<rect x="85.33" y="283.00" width="36.05" height="1.00" fill="url(#lp)" opacity="0.740"/>
<rect x="85.28" y="284.00" width="36.07" height="1.00" fill="url(#lp)" opacity="0.741"/>
<rect x="85.22" y="285.00" width="36.10" height="1.00" fill="url(#lp)" opacity="0.737"/>
<rect x="85.17" y="286.00" width="36.12" height="1.00" fill="url(#lp)" opacity="0.733"/>
<rect x="85.12" y="287.00" width="36.14" height="1.00" fill="url(#lp)" opacity="0.728"/>
<rect x="85.08" y="288.00" width="36.17" height="1.00" fill="url(#lp)" opacity="0.724"/>
<rect x="85.03" y="289.00" width="36.19" height="1.00" fill="url(#lp)" opacity="0.720"/>
<rect x="84.99" y="290.00" width="36.20" height="1.00" fill="url(#lp)" opacity="0.716"/>
<rect x="84.96" y="291.00" width="36.20" height="1.00" fill="url(#lp)" opacity="0.711"/>
<rect x="84.93" y="292.00" width="36.19" height="1.00" fill="url(#lp)" opacity="0.702"/>
<rect x="84.90" y="293.00" width="36.19" height="1.00" fill="url(#lp)" opacity="0.688"/>
<rect x="84.87" y="294.00" width="36.19" height="1.00" fill="url(#lp)" opacity="0.674"/>
<rect x="84.84" y="295.00" width="36.18" height="1.00" fill="url(#lp)" opacity="0.659"/>
<rect x="84.81" y="296.00" width="36.18" height="1.00" fill="url(#lp)" opacity="0.645"/>
<rect x="84.79" y="297.00" width="36.18" height="1.00" fill="url(#lp)" opacity="0.631"/>
<rect x="84.76" y="298.00" width="36.18" height="1.00" fill="url(#lp)" opacity="0.623"/>
<rect x="84.73" y="299.00" width="36.17" height="1.00" fill="url(#lp)" opacity="0.622"/>
<rect x="84.70" y="300.00" width="36.17" height="1.00" fill="url(#lp)" opacity="0.620"/>
<rect x="84.67" y="301.00" width="36.17" height="1.00" fill="url(#lp)" opacity="0.619"/>
<rect x="84.64" y="302.00" width="36.16" height="1.00" fill="url(#lp)" opacity="0.618"/>
<rect x="84.61" y="303.00" width="36.16" height="1.00" fill="url(#lp)" opacity="0.616"/>
<rect x="84.59" y="304.00" width="36.16" height="1.00" fill="url(#lp)" opacity="0.623"/>
<rect x="84.56" y="305.00" width="36.16" height="1.00" fill="url(#lp)" opacity="0.639"/>
<rect x="84.53" y="306.00" width="36.15" height="1.00" fill="url(#lp)" opacity="0.655"/>
<rect x="84.50" y="307.00" width="36.15" height="1.00" fill="url(#lp)" opacity="0.670"/>
<rect x="84.47" y="308.00" width="36.15" height="1.00" fill="url(#lp)" opacity="0.686"/>
<rect x="84.44" y="309.00" width="36.14" height="1.00" fill="url(#lp)" opacity="0.702"/>
<rect x="84.41" y="310.00" width="36.14" height="1.00" fill="url(#lp)" opacity="0.712"/>
<rect x="84.39" y="311.00" width="36.14" height="1.00" fill="url(#lp)" opacity="0.717"/>
<rect x="84.36" y="312.00" width="36.14" height="1.00" fill="url(#lp)" opacity="0.722"/>
<rect x="84.33" y="313.00" width="36.13" height="1.00" fill="url(#lp)" opacity="0.726"/>
<rect x="84.30" y="314.00" width="36.13" height="1.00" fill="url(#lp)" opacity="0.731"/>
<rect x="84.27" y="315.00" width="36.13" height="1.00" fill="url(#lp)" opacity="0.736"/>
<rect x="84.24" y="316.00" width="36.12" height="1.00" fill="url(#lp)" opacity="0.741"/>
<rect x="84.21" y="317.00" width="36.12" height="1.00" fill="url(#lp)" opacity="0.745"/>
<rect x="84.19" y="318.00" width="36.12" height="1.00" fill="url(#lp)" opacity="0.750"/>
<rect x="84.16" y="319.00" width="36.12" height="1.00" fill="url(#lp)" opacity="0.753"/>
<rect x="84.13" y="320.00" width="36.11" height="1.00" fill="url(#lp)" opacity="0.753"/>
<rect x="84.10" y="321.00" width="36.11" height="1.00" fill="url(#lp)" opacity="0.753"/>
<rect x="84.07" y="322.00" width="36.11" height="1.00" fill="url(#lp)" opacity="0.753"/>
<rect x="84.04" y="323.00" width="36.10" height="1.00" fill="url(#lp)" opacity="0.753"/>
<rect x="84.01" y="324.00" width="36.10" height="1.00" fill="url(#lp)" opacity="0.753"/>
<rect x="83.99" y="325.00" width="36.10" height="1.00" fill="url(#lp)" opacity="0.753"/>
<rect x="83.96" y="326.00" width="36.10" height="1.00" fill="url(#lp)" opacity="0.753"/>
<rect x="83.93" y="327.00" width="36.09" height="1.00" fill="url(#lp)" opacity="0.753"/>
<rect x="83.90" y="328.00" width="36.09" height="1.00" fill="url(#lp)" opacity="0.753"/>
<rect x="83.87" y="329.00" width="36.09" height="1.00" fill="url(#lp)" opacity="0.753"/>
<rect x="83.84" y="330.00" width="36.08" height="1.00" fill="url(#lp)" opacity="0.753"/>
<rect x="83.81" y="331.00" width="36.08" height="1.00" fill="url(#lp)" opacity="0.753"/>
<rect x="83.79" y="332.00" width="36.08" height="1.00" fill="url(#lp)" opacity="0.753"/>
<rect x="83.76" y="333.00" width="36.08" height="1.00" fill="url(#lp)" opacity="0.746"/>
<rect x="83.73" y="334.00" width="36.07" height="1.00" fill="url(#lp)" opacity="0.733"/>
<rect x="83.70" y="335.00" width="36.07" height="1.00" fill="url(#lp)" opacity="0.719"/>
<rect x="83.67" y="336.00" width="36.07" height="1.00" fill="url(#lp)" opacity="0.706"/>
<rect x="83.64" y="337.00" width="36.06" height="1.00" fill="url(#lp)" opacity="0.693"/>
<rect x="83.61" y="338.00" width="36.06" height="1.00" fill="url(#lp)" opacity="0.679"/>
<rect x="83.59" y="339.00" width="36.06" height="1.00" fill="url(#lp)" opacity="0.666"/>
<rect x="83.56" y="340.00" width="36.06" height="1.00" fill="url(#lp)" opacity="0.649"/>
<rect x="83.53" y="341.00" width="36.05" height="1.00" fill="url(#lp)" opacity="0.627"/>
<rect x="83.50" y="342.00" width="36.05" height="1.00" fill="url(#lp)" opacity="0.606"/>
<rect x="83.47" y="343.00" width="36.05" height="1.00" fill="url(#lp)" opacity="0.585"/>
<rect x="83.44" y="344.00" width="36.04" height="1.00" fill="url(#lp)" opacity="0.564"/>
<rect x="83.41" y="345.00" width="36.04" height="1.00" fill="url(#lp)" opacity="0.542"/>
<rect x="83.39" y="346.00" width="36.04" height="1.00" fill="url(#lp)" opacity="0.523"/>
<rect x="83.36" y="347.00" width="36.04" height="1.00" fill="url(#lp)" opacity="0.505"/>
<rect x="83.33" y="348.00" width="36.03" height="1.00" fill="url(#lp)" opacity="0.488"/>
<rect x="83.30" y="349.00" width="36.03" height="1.00" fill="url(#lp)" opacity="0.470"/>
<rect x="83.27" y="350.00" width="36.03" height="1.00" fill="url(#lp)" opacity="0.452"/>
<rect x="83.24" y="351.00" width="36.02" height="1.00" fill="url(#lp)" opacity="0.434"/>
<rect x="83.21" y="352.00" width="36.02" height="1.00" fill="url(#lp)" opacity="0.425"/>
<rect x="83.19" y="353.00" width="36.02" height="1.00" fill="url(#lp)" opacity="0.423"/>
<rect x="83.16" y="354.00" width="36.02" height="1.00" fill="url(#lp)" opacity="0.422"/>
<rect x="83.13" y="355.00" width="36.01" height="1.00" fill="url(#lp)" opacity="0.420"/>
<rect x="83.10" y="356.00" width="36.01" height="1.00" fill="url(#lp)" opacity="0.418"/>
<rect x="83.07" y="357.00" width="36.01" height="1.00" fill="url(#lp)" opacity="0.417"/>
<rect x="83.04" y="358.00" width="36.00" height="1.00" fill="url(#lp)" opacity="0.415"/>
<rect x="83.01" y="359.00" width="36.00" height="1.00" fill="url(#lp)" opacity="0.414"/>
<rect x="82.98" y="360.00" width="35.98" height="1.00" fill="url(#lp)" opacity="0.421"/>
<rect x="82.94" y="361.00" width="35.95" height="1.00" fill="url(#lp)" opacity="0.437"/>
<rect x="82.89" y="362.00" width="35.92" height="1.00" fill="url(#lp)" opacity="0.454"/>
<rect x="82.85" y="363.00" width="35.89" height="1.00" fill="url(#lp)" opacity="0.470"/>
<rect x="82.81" y="364.00" width="35.86" height="1.00" fill="url(#lp)" opacity="0.486"/>
<rect x="82.76" y="365.00" width="35.83" height="1.00" fill="url(#lp)" opacity="0.503"/>
<rect x="82.72" y="366.00" width="35.80" height="1.00" fill="url(#lp)" opacity="0.520"/>
<rect x="82.68" y="367.00" width="35.76" height="1.00" fill="url(#lp)" opacity="0.540"/>
<rect x="82.64" y="368.00" width="35.73" height="1.00" fill="url(#lp)" opacity="0.559"/>
<rect x="82.59" y="369.00" width="35.70" height="1.00" fill="url(#lp)" opacity="0.578"/>
<rect x="82.55" y="370.00" width="35.67" height="1.00" fill="url(#lp)" opacity="0.597"/>
<rect x="82.51" y="371.00" width="35.64" height="1.00" fill="url(#lp)" opacity="0.616"/>
<rect x="82.46" y="372.00" width="35.61" height="1.00" fill="url(#lp)" opacity="0.623"/>
<rect x="82.42" y="373.00" width="35.58" height="1.00" fill="url(#lp)" opacity="0.618"/>
<rect x="82.38" y="374.00" width="35.54" height="1.00" fill="url(#lp)" opacity="0.613"/>
<rect x="82.34" y="375.00" width="35.51" height="1.00" fill="url(#lp)" opacity="0.608"/>
<rect x="82.29" y="376.00" width="35.48" height="1.00" fill="url(#lp)" opacity="0.603"/>
<rect x="82.25" y="377.00" width="35.45" height="1.00" fill="url(#lp)" opacity="0.598"/>
<rect x="82.21" y="378.00" width="35.42" height="1.00" fill="url(#lp)" opacity="0.589"/>
<rect x="82.16" y="379.00" width="35.39" height="1.00" fill="url(#lp)" opacity="0.576"/>
<rect x="82.12" y="380.00" width="35.36" height="1.00" fill="url(#lp)" opacity="0.563"/>
<rect x="82.08" y="381.00" width="35.32" height="1.00" fill="url(#lp)" opacity="0.550"/>
<rect x="82.04" y="382.00" width="35.29" height="1.00" fill="url(#lp)" opacity="0.536"/>
<rect x="81.99" y="383.00" width="35.26" height="1.00" fill="url(#lp)" opacity="0.523"/>
<rect x="81.95" y="384.00" width="35.23" height="1.00" fill="url(#lp)" opacity="0.510"/>
<rect x="81.91" y="385.00" width="35.20" height="1.00" fill="url(#lp)" opacity="0.496"/>
<rect x="81.86" y="386.00" width="35.17" height="1.00" fill="url(#lp)" opacity="0.479"/>
<rect x="81.82" y="387.00" width="35.14" height="1.00" fill="url(#lp)" opacity="0.458"/>
<rect x="81.78" y="388.00" width="35.10" height="1.00" fill="url(#lp)" opacity="0.437"/>
<rect x="81.74" y="389.00" width="35.07" height="1.00" fill="url(#lp)" opacity="0.415"/>
<rect x="81.69" y="390.00" width="35.04" height="1.00" fill="url(#lp)" opacity="0.394"/>
<rect x="81.65" y="391.00" width="35.01" height="1.00" fill="url(#lp)" opacity="0.373"/>
<rect x="81.61" y="392.00" width="34.98" height="1.00" fill="url(#lp)" opacity="0.352"/>
<rect x="81.56" y="393.00" width="34.95" height="1.00" fill="url(#lp)" opacity="0.330"/>
<rect x="81.52" y="394.00" width="34.92" height="1.00" fill="url(#lp)" opacity="0.309"/>
<rect x="81.48" y="395.00" width="34.88" height="1.00" fill="url(#lp)" opacity="0.288"/>
<rect x="81.44" y="396.00" width="34.85" height="1.00" fill="url(#lp)" opacity="0.267"/>
<rect x="81.39" y="397.00" width="34.82" height="1.00" fill="url(#lp)" opacity="0.245"/>
<rect x="81.35" y="398.00" width="34.79" height="1.00" fill="url(#lp)" opacity="0.231"/>
<rect x="81.31" y="399.00" width="34.76" height="1.00" fill="url(#lp)" opacity="0.224"/>
<rect x="81.26" y="400.00" width="34.73" height="1.00" fill="url(#lp)" opacity="0.217"/>
<rect x="81.22" y="401.00" width="34.70" height="1.00" fill="url(#lp)" opacity="0.210"/>
<rect x="81.18" y="402.00" width="34.66" height="1.00" fill="url(#lp)" opacity="0.203"/>
<rect x="81.14" y="403.00" width="34.63" height="1.00" fill="url(#lp)" opacity="0.196"/>
<rect x="81.09" y="404.00" width="34.60" height="1.00" fill="url(#lp)" opacity="0.197"/>
<rect x="81.05" y="405.00" width="34.57" height="1.00" fill="url(#lp)" opacity="0.205"/>
<rect x="81.01" y="406.00" width="34.54" height="1.00" fill="url(#lp)" opacity="0.214"/>
<rect x="80.96" y="407.00" width="34.51" height="1.00" fill="url(#lp)" opacity="0.222"/>
<rect x="80.92" y="408.00" width="34.48" height="1.00" fill="url(#lp)" opacity="0.231"/>
<rect x="80.88" y="409.00" width="34.44" height="1.00" fill="url(#lp)" opacity="0.239"/>
<rect x="80.84" y="410.00" width="34.41" height="1.00" fill="url(#lp)" opacity="0.246"/>
<rect x="80.79" y="411.00" width="34.38" height="1.00" fill="url(#lp)" opacity="0.250"/>
<rect x="80.75" y="412.00" width="34.35" height="1.00" fill="url(#lp)" opacity="0.254"/>
<rect x="80.71" y="413.00" width="34.32" height="1.00" fill="url(#lp)" opacity="0.258"/>
<rect x="80.66" y="414.00" width="34.29" height="1.00" fill="url(#lp)" opacity="0.263"/>
<rect x="80.62" y="415.00" width="34.26" height="1.00" fill="url(#lp)" opacity="0.267"/>
<rect x="80.58" y="416.00" width="34.22" height="1.00" fill="url(#lp)" opacity="0.271"/>
<rect x="80.54" y="417.00" width="34.19" height="1.00" fill="url(#lp)" opacity="0.276"/>
<rect x="80.49" y="418.00" width="34.16" height="1.00" fill="url(#lp)" opacity="0.283"/>
<rect x="80.45" y="419.00" width="34.13" height="1.00" fill="url(#lp)" opacity="0.294"/>
<rect x="80.41" y="420.00" width="34.10" height="1.00" fill="url(#lp)" opacity="0.304"/>
<rect x="80.36" y="421.00" width="34.07" height="1.00" fill="url(#lp)" opacity="0.315"/>
<rect x="80.32" y="422.00" width="34.04" height="1.00" fill="url(#lp)" opacity="0.326"/>
<rect x="80.28" y="423.00" width="34.00" height="1.00" fill="url(#lp)" opacity="0.336"/>
<rect x="80.24" y="424.00" width="33.97" height="1.00" fill="url(#lp)" opacity="0.347"/>
<rect x="80.19" y="425.00" width="33.94" height="1.00" fill="url(#lp)" opacity="0.357"/>
<rect x="80.15" y="426.00" width="33.91" height="1.00" fill="url(#lp)" opacity="0.367"/>
<rect x="80.11" y="427.00" width="33.88" height="1.00" fill="url(#lp)" opacity="0.376"/>
<rect x="80.06" y="428.00" width="33.85" height="1.00" fill="url(#lp)" opacity="0.384"/>
<rect x="80.02" y="429.00" width="33.82" height="1.00" fill="url(#lp)" opacity="0.393"/>
<rect x="79.98" y="430.00" width="33.77" height="1.00" fill="url(#lp)" opacity="0.401"/>
<rect x="79.94" y="431.00" width="33.71" height="1.00" fill="url(#lp)" opacity="0.401"/>
<rect x="79.91" y="432.00" width="33.66" height="1.00" fill="url(#lp)" opacity="0.393"/>
<rect x="79.87" y="433.00" width="33.60" height="1.00" fill="url(#lp)" opacity="0.384"/>
<rect x="79.83" y="434.00" width="33.54" height="1.00" fill="url(#lp)" opacity="0.376"/>
<rect x="79.79" y="435.00" width="33.48" height="1.00" fill="url(#lp)" opacity="0.367"/>
<rect x="79.76" y="436.00" width="33.43" height="1.00" fill="url(#lp)" opacity="0.355"/>
<rect x="79.72" y="437.00" width="33.37" height="1.00" fill="url(#lp)" opacity="0.340"/>
<rect x="79.68" y="438.00" width="33.31" height="1.00" fill="url(#lp)" opacity="0.324"/>
<rect x="79.64" y="439.00" width="33.25" height="1.00" fill="url(#lp)" opacity="0.308"/>
<rect x="79.61" y="440.00" width="33.20" height="1.00" fill="url(#lp)" opacity="0.293"/>
<rect x="79.57" y="441.00" width="33.14" height="1.00" fill="url(#lp)" opacity="0.277"/>
<rect x="79.53" y="442.00" width="33.08" height="1.00" fill="url(#lp)" opacity="0.266"/>
<rect x="79.49" y="443.00" width="33.02" height="1.00" fill="url(#lp)" opacity="0.259"/>
<rect x="79.46" y="444.00" width="32.97" height="1.00" fill="url(#lp)" opacity="0.252"/>
<rect x="79.42" y="445.00" width="32.91" height="1.00" fill="url(#lp)" opacity="0.245"/>
<rect x="79.38" y="446.00" width="32.85" height="1.00" fill="url(#lp)" opacity="0.239"/>
<rect x="79.34" y="447.00" width="32.79" height="1.00" fill="url(#lp)" opacity="0.232"/>
<rect x="79.31" y="448.00" width="32.74" height="1.00" fill="url(#lp)" opacity="0.225"/>
<rect x="79.27" y="449.00" width="32.68" height="1.00" fill="url(#lp)" opacity="0.218"/>
<rect x="79.23" y="450.00" width="32.62" height="1.00" fill="url(#lp)" opacity="0.210"/>
<rect x="79.19" y="451.00" width="32.56" height="1.00" fill="url(#lp)" opacity="0.203"/>
<rect x="79.16" y="452.00" width="32.51" height="1.00" fill="url(#lp)" opacity="0.195"/>
<rect x="79.12" y="453.00" width="32.45" height="1.00" fill="url(#lp)" opacity="0.187"/>
<rect x="79.08" y="454.00" width="32.39" height="1.00" fill="url(#lp)" opacity="0.179"/>
<rect x="79.04" y="455.00" width="32.33" height="1.00" fill="url(#lp)" opacity="0.171"/>
<rect x="79.01" y="456.00" width="32.28" height="1.00" fill="url(#lp)" opacity="0.163"/>
<rect x="78.97" y="457.00" width="32.22" height="1.00" fill="url(#lp)" opacity="0.155"/>
<rect x="78.93" y="458.00" width="32.16" height="1.00" fill="url(#lp)" opacity="0.148"/>
<rect x="78.89" y="459.00" width="32.10" height="1.00" fill="url(#lp)" opacity="0.143"/>
<rect x="78.86" y="460.00" width="32.05" height="1.00" fill="url(#lp)" opacity="0.138"/>
<rect x="78.82" y="461.00" width="31.99" height="1.00" fill="url(#lp)" opacity="0.133"/>
<rect x="78.78" y="462.00" width="31.93" height="1.00" fill="url(#lp)" opacity="0.128"/>
<rect x="78.74" y="463.00" width="31.87" height="1.00" fill="url(#lp)" opacity="0.123"/>
<rect x="78.71" y="464.00" width="31.82" height="1.00" fill="url(#lp)" opacity="0.118"/>
<rect x="78.67" y="465.00" width="31.76" height="1.00" fill="url(#lp)" opacity="0.113"/>
<rect x="78.63" y="466.00" width="31.70" height="1.00" fill="url(#lp)" opacity="0.108"/>
<rect x="78.59" y="467.00" width="31.64" height="1.00" fill="url(#lp)" opacity="0.103"/>
<rect x="78.56" y="468.00" width="31.59" height="1.00" fill="url(#lp)" opacity="0.099"/>
<rect x="78.52" y="469.00" width="31.53" height="1.00" fill="url(#lp)" opacity="0.097"/>
<rect x="78.50" y="470.00" width="31.48" height="1.00" fill="url(#lp)" opacity="0.095"/>
<rect x="78.49" y="471.00" width="31.43" height="1.00" fill="url(#lp)" opacity="0.093"/>
<rect x="78.48" y="472.00" width="31.39" height="1.00" fill="url(#lp)" opacity="0.091"/>
<rect x="78.48" y="473.00" width="31.34" height="1.00" fill="url(#lp)" opacity="0.089"/>
<rect x="78.47" y="474.00" width="31.30" height="1.00" fill="url(#lp)" opacity="0.086"/>
<rect x="78.46" y="475.00" width="31.25" height="1.00" fill="url(#lp)" opacity="0.084"/>
<rect x="78.46" y="476.00" width="31.21" height="1.00" fill="url(#lp)" opacity="0.082"/>
<rect x="78.45" y="477.00" width="31.16" height="1.00" fill="url(#lp)" opacity="0.080"/>
<rect x="78.45" y="478.00" width="31.12" height="1.00" fill="url(#lp)" opacity="0.078"/>
<rect x="78.44" y="479.00" width="31.07" height="1.00" fill="url(#lp)" opacity="0.076"/>
<rect x="78.43" y="480.00" width="31.03" height="1.00" fill="url(#lp)" opacity="0.075"/>
<rect x="78.43" y="481.00" width="30.98" height="1.00" fill="url(#lp)" opacity="0.075"/>
<rect x="78.42" y="482.00" width="30.94" height="1.00" fill="url(#lp)" opacity="0.075"/>
<rect x="78.41" y="483.00" width="30.89" height="1.00" fill="url(#lp)" opacity="0.075"/>
<rect x="78.41" y="484.00" width="30.85" height="1.00" fill="url(#lp)" opacity="0.075"/>
<rect x="78.40" y="485.00" width="30.80" height="1.00" fill="url(#lp)" opacity="0.075"/>
<rect x="78.39" y="486.00" width="30.76" height="1.00" fill="url(#lp)" opacity="0.075"/>
<rect x="78.39" y="487.00" width="30.71" height="1.00" fill="url(#lp)" opacity="0.075"/>
<rect x="78.38" y="488.00" width="30.67" height="1.00" fill="url(#lp)" opacity="0.075"/>
<rect x="78.38" y="489.00" width="30.62" height="1.00" fill="url(#lp)" opacity="0.075"/>
<rect x="78.37" y="490.00" width="30.58" height="1.00" fill="url(#lp)" opacity="0.075"/>
<rect x="78.36" y="491.00" width="30.54" height="1.00" fill="url(#lp)" opacity="0.075"/>
<rect x="78.36" y="492.00" width="30.49" height="1.00" fill="url(#lp)" opacity="0.075"/>
<rect x="78.35" y="493.00" width="30.45" height="1.00" fill="url(#lp)" opacity="0.075"/>
<rect x="78.34" y="494.00" width="30.40" height="1.00" fill="url(#lp)" opacity="0.075"/>
<rect x="78.34" y="495.00" width="30.36" height="1.00" fill="url(#lp)" opacity="0.075"/>
<rect x="78.33" y="496.00" width="30.31" height="1.00" fill="url(#lp)" opacity="0.075"/>
<rect x="78.32" y="497.00" width="30.27" height="1.00" fill="url(#lp)" opacity="0.075"/>
<rect x="78.32" y="498.00" width="30.22" height="1.00" fill="url(#lp)" opacity="0.075"/>
<rect x="78.31" y="499.00" width="30.18" height="1.00" fill="url(#lp)" opacity="0.075"/>
<rect x="78.30" y="500.00" width="30.13" height="1.00" fill="url(#lp)" opacity="0.076"/>
<rect x="78.30" y="501.00" width="30.09" height="1.00" fill="url(#lp)" opacity="0.077"/>
<rect x="78.29" y="502.00" width="30.04" height="1.00" fill="url(#lp)" opacity="0.078"/>
<rect x="78.29" y="503.00" width="30.00" height="1.00" fill="url(#lp)" opacity="0.080"/>
<rect x="78.28" y="504.00" width="29.95" height="1.00" fill="url(#lp)" opacity="0.081"/>
<rect x="78.27" y="505.00" width="29.91" height="1.00" fill="url(#lp)" opacity="0.082"/>
<rect x="78.27" y="506.00" width="29.86" height="1.00" fill="url(#lp)" opacity="0.083"/>
<rect x="78.26" y="507.00" width="29.82" height="1.00" fill="url(#lp)" opacity="0.085"/>
<rect x="78.25" y="508.00" width="29.77" height="1.00" fill="url(#lp)" opacity="0.086"/>
<rect x="78.25" y="509.00" width="29.73" height="1.00" fill="url(#lp)" opacity="0.087"/>
<rect x="78.24" y="510.00" width="29.68" height="1.00" fill="url(#lp)" opacity="0.088"/>
<rect x="78.23" y="511.00" width="29.64" height="1.00" fill="url(#lp)" opacity="0.089"/>
<rect x="78.23" y="512.00" width="29.59" height="1.00" fill="url(#lp)" opacity="0.091"/>
<rect x="78.22" y="513.00" width="29.55" height="1.00" fill="url(#lp)" opacity="0.092"/>
<rect x="78.21" y="514.00" width="29.50" height="1.00" fill="url(#lp)" opacity="0.091"/>
<rect x="78.21" y="515.00" width="29.46" height="1.00" fill="url(#lp)" opacity="0.088"/>
<rect x="78.20" y="516.00" width="29.41" height="1.00" fill="url(#lp)" opacity="0.085"/>
<rect x="78.20" y="517.00" width="29.37" height="1.00" fill="url(#lp)" opacity="0.082"/>
<rect x="78.19" y="518.00" width="29.32" height="1.00" fill="url(#lp)" opacity="0.079"/>
<rect x="78.18" y="519.00" width="29.28" height="1.00" fill="url(#lp)" opacity="0.076"/>
<rect x="78.18" y="520.00" width="29.23" height="1.00" fill="url(#lp)" opacity="0.073"/>
<rect x="78.17" y="521.00" width="29.19" height="1.00" fill="url(#lp)" opacity="0.070"/>
<rect x="78.16" y="522.00" width="29.14" height="1.00" fill="url(#lp)" opacity="0.067"/>
<rect x="78.16" y="523.00" width="29.10" height="1.00" fill="url(#lp)" opacity="0.063"/>
<rect x="78.15" y="524.00" width="29.05" height="1.00" fill="url(#lp)" opacity="0.060"/>
<rect x="78.14" y="525.00" width="29.01" height="1.00" fill="url(#lp)" opacity="0.058"/>
<rect x="78.14" y="526.00" width="28.96" height="1.00" fill="url(#lp)" opacity="0.056"/>
<rect x="78.13" y="527.00" width="28.92" height="1.00" fill="url(#lp)" opacity="0.054"/>
<rect x="78.12" y="528.00" width="28.88" height="1.00" fill="url(#lp)" opacity="0.052"/>
<rect x="78.12" y="529.00" width="28.83" height="1.00" fill="url(#lp)" opacity="0.051"/>
<rect x="78.11" y="530.00" width="28.79" height="1.00" fill="url(#lp)" opacity="0.049"/>
<rect x="78.11" y="531.00" width="28.74" height="1.00" fill="url(#lp)" opacity="0.047"/>
<rect x="78.10" y="532.00" width="28.70" height="1.00" fill="url(#lp)" opacity="0.045"/>
<rect x="78.09" y="533.00" width="28.65" height="1.00" fill="url(#lp)" opacity="0.043"/>
<rect x="78.09" y="534.00" width="28.61" height="1.00" fill="url(#lp)" opacity="0.042"/>
<rect x="78.08" y="535.00" width="28.56" height="1.00" fill="url(#lp)" opacity="0.040"/>
<rect x="78.07" y="536.00" width="28.52" height="1.00" fill="url(#lp)" opacity="0.038"/>
<rect x="78.07" y="537.00" width="28.47" height="1.00" fill="url(#lp)" opacity="0.036"/>
<rect x="78.06" y="538.00" width="28.43" height="1.00" fill="url(#lp)" opacity="0.034"/>
<rect x="78.05" y="539.00" width="28.38" height="1.00" fill="url(#lp)" opacity="0.032"/>
<rect x="78.05" y="540.00" width="28.34" height="1.00" fill="url(#lp)" opacity="0.031"/>
<rect x="78.04" y="541.00" width="28.29" height="1.00" fill="url(#lp)" opacity="0.029"/>
<rect x="78.04" y="542.00" width="28.25" height="1.00" fill="url(#lp)" opacity="0.027"/>
<rect x="78.03" y="543.00" width="28.20" height="1.00" fill="url(#lp)" opacity="0.025"/>
<rect x="78.02" y="544.00" width="28.16" height="1.00" fill="url(#lp)" opacity="0.023"/>
<rect x="78.02" y="545.00" width="28.11" height="1.00" fill="url(#lp)" opacity="0.022"/>
<rect x="78.01" y="546.00" width="28.07" height="1.00" fill="url(#lp)" opacity="0.020"/>
<rect x="78.00" y="547.00" width="28.02" height="1.00" fill="url(#lp)" opacity="0.018"/>
<rect x="78.00" y="548.00" width="28.00" height="0.80" fill="url(#lp)" opacity="0.017"/>
</g>
<defs><linearGradient id="l2d" x1="0" x2="0" y1="0" y2="1"><stop offset="0" stop-color="#000" stop-opacity="0"/><stop offset="0.25" stop-color="#000" stop-opacity="0.09"/><stop offset="0.8" stop-color="#000" stop-opacity="0.07"/><stop offset="1" stop-color="#000" stop-opacity="0"/></linearGradient></defs>
<rect x="94" y="45" width="14" height="120" fill="url(#l2d)"/>
<defs><filter id="bl2" x="-50%" y="-50%" width="200%" height="200%"><feGaussianBlur stdDeviation="1.6"/></filter></defs>
<g filter="url(#bl2)" fill="#fff">
<ellipse cx="102" cy="82" rx="7" ry="9" opacity="0.22"/>
<ellipse cx="119" cy="83" rx="7" ry="4" opacity="0.2"/>
<ellipse cx="117" cy="115" rx="8" ry="9" opacity="0.2"/>
<ellipse cx="100" cy="139" rx="5" ry="3.5" opacity="0.15"/>
<ellipse cx="112" cy="96" rx="4" ry="4" opacity="0.15"/>
<ellipse cx="122" cy="100" rx="4" ry="5" opacity="0.15"/>
<ellipse cx="98" cy="60" rx="4" ry="6" opacity="0.12"/>
<ellipse cx="120" cy="60" rx="5" ry="8" opacity="0.1"/>
<ellipse cx="106" cy="70" rx="5" ry="3" opacity="0.12"/>
<ellipse cx="124" cy="128" rx="3" ry="5" opacity="0.12"/>
</g>
<rect x="24.6" y="547.2" width="106.3" height="1.6" fill="#d9d9d9"/>
<ellipse cx="129.5" cy="512" rx="1.8" ry="8" fill="#888" opacity="0.6" filter="url(#bl2)"/>
</svg>
<svg width="520" height="552" viewBox="0 0 520 552" style="position:absolute;left:0;top:0" font-family='"Liberation Sans", sans-serif' fill="#231f20">
<text x="0.80" y="15.30" font-size="17" text-anchor="start" font-weight="bold" textLength="12.2" lengthAdjust="spacingAndGlyphs" stroke="#000" stroke-width="0.5">A</text>
<text x="160.50" y="14.90" font-size="17" text-anchor="start" font-weight="bold" textLength="10.6" lengthAdjust="spacingAndGlyphs" stroke="#000" stroke-width="0.5">B</text>
<text x="159.60" y="301.20" font-size="17" text-anchor="start" font-weight="bold" textLength="11.2" lengthAdjust="spacingAndGlyphs" stroke="#000" stroke-width="0.5">C</text>
<text x="39.70" y="15.30" font-size="12" text-anchor="start" font-weight="normal" textLength="31.4" lengthAdjust="spacingAndGlyphs">HMW</text>
<text x="90.60" y="15.30" font-size="12" text-anchor="start" font-weight="normal" textLength="34.2" lengthAdjust="spacingAndGlyphs">MMW</text>
<path d="M225.1,28 L225.1,224.7 M224.2,223.8 L520,223.8" stroke="#151515" stroke-width="1.8" fill="none"/>
<path d="M220.3,197.20 L225,197.20" stroke="#231f20" stroke-width="1.3"/>
<text x="215.60" y="201.80" font-size="13" text-anchor="end" font-weight="normal">0.0</text>
<path d="M220.3,156.08 L225,156.08" stroke="#231f20" stroke-width="1.3"/>
<text x="215.60" y="160.68" font-size="13" text-anchor="end" font-weight="normal">0.4</text>
<path d="M220.3,114.96 L225,114.96" stroke="#231f20" stroke-width="1.3"/>
<text x="215.60" y="119.56" font-size="13" text-anchor="end" font-weight="normal">0.8</text>
<path d="M220.3,73.84 L225,73.84" stroke="#231f20" stroke-width="1.3"/>
<text x="215.60" y="78.44" font-size="13" text-anchor="end" font-weight="normal">1.2</text>
<path d="M220.3,32.72 L225,32.72" stroke="#231f20" stroke-width="1.3"/>
<text x="215.60" y="37.32" font-size="13" text-anchor="end" font-weight="normal">1.6</text>
<path d="M251.50,223.8 L251.50,228.6" stroke="#231f20" stroke-width="1.3"/>
<text x="251.50" y="244.40" font-size="13" text-anchor="middle" font-weight="normal">0.00</text>
<path d="M312.55,223.8 L312.55,228.6" stroke="#231f20" stroke-width="1.3"/>
<text x="312.55" y="244.40" font-size="13" text-anchor="middle" font-weight="normal">0.25</text>
<path d="M373.60,223.8 L373.60,228.6" stroke="#231f20" stroke-width="1.3"/>
<text x="373.60" y="244.40" font-size="13" text-anchor="middle" font-weight="normal">0.50</text>
<path d="M434.65,223.8 L434.65,228.6" stroke="#231f20" stroke-width="1.3"/>
<text x="434.65" y="244.40" font-size="13" text-anchor="middle" font-weight="normal">0.75</text>
<path d="M495.70,223.8 L495.70,228.6" stroke="#231f20" stroke-width="1.3"/>
<text x="495.70" y="244.40" font-size="13" text-anchor="middle" font-weight="normal">1.00</text>
<text x="338.50" y="264.60" font-size="14" text-anchor="start" font-weight="normal" textLength="67.5" lengthAdjust="spacingAndGlyphs" stroke="#231f20" stroke-width="0.25">VWF (µg/ml)</text>
<g transform="translate(189.4,185.6) rotate(-90)"><text x="0.00" y="0.00" font-size="14.3" text-anchor="start" font-weight="normal" textLength="119.6" lengthAdjust="spacingAndGlyphs" stroke="#231f20" stroke-width="0.25">Response (OD450 nm)</text></g>
<path d="M251.50,197.20 L251.81,193.70 L252.12,190.36 L252.43,187.15 L252.74,184.07 L253.05,181.12 L253.35,178.28 L253.66,175.56 L253.97,172.93 L254.28,170.40 L254.59,167.96 L254.90,165.62 L255.21,163.35 L255.52,161.16 L255.83,159.04 L256.14,157.00 L256.45,155.02 L256.75,153.11 L257.06,151.26 L257.37,149.46 L257.68,147.72 L257.99,146.03 L258.30,144.40 L258.61,142.81 L258.92,141.27 L259.23,139.77 L259.54,138.31 L259.85,136.89 L260.16,135.52 L260.46,134.18 L260.77,132.87 L261.08,131.60 L261.39,130.37 L261.70,129.16 L262.01,127.99 L262.32,126.84 L262.63,125.72 L262.94,124.63 L263.25,123.57 L263.56,122.53 L263.86,121.52 L264.17,120.53 L264.48,119.56 L264.79,118.61 L265.10,117.69 L265.41,116.79 L265.72,115.90 L266.03,115.04 L266.34,114.19 L266.65,113.36 L266.96,112.55 L267.26,111.76 L267.57,110.98 L267.88,110.22 L268.19,109.47 L268.50,108.74 L268.81,108.02 L269.12,107.32 L269.43,106.63 L269.74,105.96 L270.05,105.29 L270.36,104.64 L270.67,104.00 L270.97,103.38 L271.28,102.76 L271.59,102.16 L271.90,101.57 L272.21,100.98 L272.52,100.41 L272.83,99.85 L273.14,99.30 L273.45,98.75 L273.76,98.22 L274.07,97.70 L274.37,97.18 L274.68,96.67 L274.99,96.18 L275.30,95.68 L275.61,95.20 L275.92,94.73 L277.77,92.04 L279.61,89.59 L281.46,87.35 L283.31,85.29 L285.15,83.39 L287.00,81.63 L288.85,80.00 L290.70,78.48 L292.54,77.06 L294.39,75.74 L296.24,74.50 L298.08,73.33 L299.93,72.23 L301.78,71.20 L303.62,70.23 L305.47,69.30 L307.32,68.43 L309.16,67.60 L311.01,66.81 L312.86,66.07 L314.70,65.35 L316.55,64.68 L318.40,64.03 L320.25,63.41 L322.09,62.82 L323.94,62.25 L325.79,61.71 L327.63,61.19 L329.48,60.69 L331.33,60.21 L333.17,59.74 L335.02,59.30 L336.87,58.87 L338.71,58.46 L340.56,58.06 L342.41,57.68 L344.25,57.31 L346.10,56.95 L347.95,56.61 L349.80,56.27 L351.64,55.95 L353.49,55.64 L355.34,55.34 L357.18,55.04 L359.03,54.76 L360.88,54.48 L362.72,54.21 L364.57,53.95 L366.42,53.70 L368.26,53.45 L370.11,53.22 L371.96,52.98 L373.81,52.76 L375.65,52.54 L377.50,52.32 L379.35,52.11 L381.19,51.91 L383.04,51.71 L384.89,51.52 L386.73,51.33 L388.58,51.15 L390.43,50.97 L392.27,50.79 L394.12,50.62 L395.97,50.46 L397.81,50.29 L399.66,50.13 L401.51,49.98 L403.36,49.83 L405.20,49.68 L407.05,49.53 L408.90,49.39 L410.74,49.25 L412.59,49.11 L414.44,48.98 L416.28,48.85 L418.13,48.72 L419.98,48.60 L421.82,48.47 L423.67,48.35 L425.52,48.23 L427.37,48.12 L429.21,48.00 L431.06,47.89 L432.91,47.78 L434.75,47.68 L436.60,47.57 L438.45,47.47 L440.29,47.37 L442.14,47.27 L443.99,47.17 L445.83,47.07 L447.68,46.98 L449.53,46.88 L451.37,46.79 L453.22,46.70 L455.07,46.61 L456.92,46.53 L458.76,46.44 L460.61,46.36 L462.46,46.28 L464.30,46.20 L466.15,46.12 L468.00,46.04 L469.84,45.96 L471.69,45.88 L473.54,45.81 L475.38,45.73 L477.23,45.66 L479.08,45.59 L480.92,45.52 L482.77,45.45 L484.62,45.38 L486.47,45.32 L488.31,45.25 L490.16,45.18 L492.01,45.12 L493.85,45.06 L495.70,44.99" stroke="#111" stroke-width="1.6" fill="none"/>
<path d="M251.50,197.20 L251.81,194.06 L252.12,191.04 L252.43,188.13 L252.74,185.33 L253.05,182.63 L253.35,180.02 L253.66,177.51 L253.97,175.08 L254.28,172.73 L254.59,170.46 L254.90,168.27 L255.21,166.14 L255.52,164.08 L255.83,162.09 L256.14,160.16 L256.45,158.28 L256.75,156.46 L257.06,154.69 L257.37,152.98 L257.68,151.31 L257.99,149.69 L258.30,148.11 L258.61,146.58 L258.92,145.08 L259.23,143.63 L259.54,142.21 L259.85,140.84 L260.16,139.49 L260.46,138.18 L260.77,136.91 L261.08,135.66 L261.39,134.44 L261.70,133.26 L262.01,132.10 L262.32,130.97 L262.63,129.86 L262.94,128.78 L263.25,127.73 L263.56,126.69 L263.86,125.68 L264.17,124.70 L264.48,123.73 L264.79,122.79 L265.10,121.86 L265.41,120.96 L265.72,120.07 L266.03,119.20 L266.34,118.35 L266.65,117.51 L266.96,116.70 L267.26,115.89 L267.57,115.11 L267.88,114.34 L268.19,113.58 L268.50,112.84 L268.81,112.11 L269.12,111.40 L269.43,110.70 L269.74,110.01 L270.05,109.33 L270.36,108.67 L270.67,108.02 L270.97,107.38 L271.28,106.75 L271.59,106.13 L271.90,105.52 L272.21,104.92 L272.52,104.34 L272.83,103.76 L273.14,103.19 L273.45,102.63 L273.76,102.08 L274.07,101.54 L274.37,101.01 L274.68,100.49 L274.99,99.97 L275.30,99.47 L275.61,98.97 L275.92,98.47 L277.77,95.69 L279.61,93.14 L281.46,90.80 L283.31,88.63 L285.15,86.64 L287.00,84.78 L288.85,83.06 L290.70,81.45 L292.54,79.94 L294.39,78.53 L296.24,77.21 L298.08,75.97 L299.93,74.79 L301.78,73.69 L303.62,72.64 L305.47,71.65 L307.32,70.71 L309.16,69.82 L311.01,68.97 L312.86,68.16 L314.70,67.39 L316.55,66.65 L318.40,65.95 L320.25,65.28 L322.09,64.64 L323.94,64.02 L325.79,63.43 L327.63,62.87 L329.48,62.32 L331.33,61.80 L333.17,61.30 L335.02,60.81 L336.87,60.34 L338.71,59.90 L340.56,59.46 L342.41,59.04 L344.25,58.64 L346.10,58.25 L347.95,57.87 L349.80,57.50 L351.64,57.15 L353.49,56.80 L355.34,56.47 L357.18,56.15 L359.03,55.84 L360.88,55.53 L362.72,55.24 L364.57,54.95 L366.42,54.67 L368.26,54.40 L370.11,54.14 L371.96,53.88 L373.81,53.64 L375.65,53.39 L377.50,53.16 L379.35,52.93 L381.19,52.70 L383.04,52.48 L384.89,52.27 L386.73,52.06 L388.58,51.86 L390.43,51.66 L392.27,51.47 L394.12,51.28 L395.97,51.10 L397.81,50.92 L399.66,50.74 L401.51,50.57 L403.36,50.40 L405.20,50.23 L407.05,50.07 L408.90,49.91 L410.74,49.76 L412.59,49.61 L414.44,49.46 L416.28,49.32 L418.13,49.17 L419.98,49.03 L421.82,48.90 L423.67,48.76 L425.52,48.63 L427.37,48.50 L429.21,48.38 L431.06,48.25 L432.91,48.13 L434.75,48.01 L436.60,47.90 L438.45,47.78 L440.29,47.67 L442.14,47.56 L443.99,47.45 L445.83,47.34 L447.68,47.24 L449.53,47.13 L451.37,47.03 L453.22,46.93 L455.07,46.83 L456.92,46.74 L458.76,46.64 L460.61,46.55 L462.46,46.46 L464.30,46.37 L466.15,46.28 L468.00,46.19 L469.84,46.11 L471.69,46.02 L473.54,45.94 L475.38,45.86 L477.23,45.77 L479.08,45.69 L480.92,45.62 L482.77,45.54 L484.62,45.46 L486.47,45.39 L488.31,45.31 L490.16,45.24 L492.01,45.17 L493.85,45.10 L495.70,45.03" stroke="#111" stroke-width="1.6" fill="none"/>
<path d="M256.00,155.90 L256.00,173.80 M251.20,155.90 L260.80,155.90 M251.20,173.80 L260.80,173.80" stroke="#231f20" stroke-width="1.3" fill="none"/>
<path d="M259.70,124.10 L259.70,151.50 M254.90,124.10 L264.50,124.10 M254.90,151.50 L264.50,151.50" stroke="#231f20" stroke-width="1.3" fill="none"/>
<path d="M268.20,89.00 L268.20,120.80 M263.40,89.00 L273.00,89.00 M263.40,120.80 L273.00,120.80" stroke="#231f20" stroke-width="1.3" fill="none"/>
<path d="M282.40,63.40 L282.40,90.00 M277.60,63.40 L287.20,63.40 M277.60,90.00 L287.20,90.00" stroke="#231f20" stroke-width="1.3" fill="none"/>
<path d="M313.10,49.20 L313.10,75.70 M308.30,49.20 L317.90,49.20 M308.30,75.70 L317.90,75.70" stroke="#231f20" stroke-width="1.3" fill="none"/>
<path d="M373.40,37.10 L373.40,72.60 M368.60,37.10 L378.20,37.10 M368.60,72.60 L378.20,72.60" stroke="#231f20" stroke-width="1.3" fill="none"/>
<path d="M495.80,31.50 L495.80,66.20 M491.00,31.50 L500.60,31.50 M491.00,66.20 L500.60,66.20" stroke="#231f20" stroke-width="1.3" fill="none"/>
<path d="M272.80,104.70 L272.80,113.20 M268.80,104.70 L276.80,104.70 M268.80,113.20 L276.80,113.20" stroke="#231f20" stroke-width="1.3" fill="none"/>
<path d="M318.70,56.10 L318.70,64.60 M314.70,56.10 L322.70,56.10 M314.70,64.60 L322.70,64.60" stroke="#231f20" stroke-width="1.3" fill="none"/>
<path d="M501.30,42.00 L501.30,57.40 M497.30,42.00 L505.30,42.00 M497.30,57.40 L505.30,57.40" stroke="#231f20" stroke-width="1.3" fill="none"/>
<circle cx="257.7" cy="197.0" r="4.0" fill="#3bb3e3" stroke="#10202a" stroke-width="1.0"/>
<circle cx="261.2" cy="168.8" r="4.0" fill="#3bb3e3" stroke="#10202a" stroke-width="1.0"/>
<circle cx="264.6" cy="142.4" r="4.0" fill="#3bb3e3" stroke="#10202a" stroke-width="1.0"/>
<circle cx="272.2" cy="109.8" r="4.0" fill="#3bb3e3" stroke="#10202a" stroke-width="1.0"/>
<circle cx="287.9" cy="80.2" r="4.0" fill="#3bb3e3" stroke="#10202a" stroke-width="1.0"/>
<circle cx="318.8" cy="60.2" r="4.0" fill="#3bb3e3" stroke="#10202a" stroke-width="1.0"/>
<circle cx="379.7" cy="55.3" r="4.0" fill="#3bb3e3" stroke="#10202a" stroke-width="1.0"/>
<circle cx="501.2" cy="49.2" r="4.0" fill="#3bb3e3" stroke="#10202a" stroke-width="1.0"/>
<circle cx="251.5" cy="197.0" r="4.0" fill="#642070" stroke="#1a0a1e" stroke-width="1.0"/>
<circle cx="255.5" cy="165.2" r="4.0" fill="#642070" stroke="#1a0a1e" stroke-width="1.0"/>
<circle cx="259.2" cy="137.7" r="4.0" fill="#642070" stroke="#1a0a1e" stroke-width="1.0"/>
<circle cx="267.4" cy="104.8" r="4.0" fill="#642070" stroke="#1a0a1e" stroke-width="1.0"/>
<circle cx="282.5" cy="76.9" r="4.0" fill="#642070" stroke="#1a0a1e" stroke-width="1.0"/>
<circle cx="313.1" cy="62.3" r="4.0" fill="#642070" stroke="#1a0a1e" stroke-width="1.0"/>
<circle cx="373.3" cy="54.8" r="4.0" fill="#642070" stroke="#1a0a1e" stroke-width="1.0"/>
<circle cx="495.7" cy="48.9" r="4.0" fill="#642070" stroke="#1a0a1e" stroke-width="1.0"/>
<circle cx="397.6" cy="185.5" r="3.9" fill="#642070" stroke="#1a1a1a" stroke-width="0.9"/>
<circle cx="397.6" cy="203.4" r="3.9" fill="#3bb3e3" stroke="#1a1a1a" stroke-width="0.9"/>
<text x="406.70" y="189.10" font-size="11" text-anchor="start" font-weight="normal" textLength="59.3" lengthAdjust="spacingAndGlyphs">HMW-VWF</text>
<text x="406.70" y="205.90" font-size="11" text-anchor="start" font-weight="normal" textLength="60.6" lengthAdjust="spacingAndGlyphs">MMW-VWF</text>
<path d="M225.1,311.8 L225.1,507.7 M224.2,506.8 L520,506.8" stroke="#151515" stroke-width="1.8" fill="none"/>
<path d="M220.3,479.80 L225,479.80" stroke="#231f20" stroke-width="1.3"/>
<text x="215.60" y="484.40" font-size="13" text-anchor="end" font-weight="normal">0.0</text>
<path d="M220.3,440.74 L225,440.74" stroke="#231f20" stroke-width="1.3"/>
<text x="215.60" y="445.34" font-size="13" text-anchor="end" font-weight="normal">0.3</text>
<path d="M220.3,401.68 L225,401.68" stroke="#231f20" stroke-width="1.3"/>
<text x="215.60" y="406.28" font-size="13" text-anchor="end" font-weight="normal">0.6</text>
<path d="M220.3,362.62 L225,362.62" stroke="#231f20" stroke-width="1.3"/>
<text x="215.60" y="367.22" font-size="13" text-anchor="end" font-weight="normal">0.9</text>
<path d="M220.3,323.56 L225,323.56" stroke="#231f20" stroke-width="1.3"/>
<text x="215.60" y="328.16" font-size="13" text-anchor="end" font-weight="normal">1.2</text>
<path d="M251.70,506.8 L251.70,511.5" stroke="#231f20" stroke-width="1.3"/>
<text x="251.70" y="527.40" font-size="13" text-anchor="middle" font-weight="normal">0.00</text>
<path d="M312.68,506.8 L312.68,511.5" stroke="#231f20" stroke-width="1.3"/>
<text x="312.68" y="527.40" font-size="13" text-anchor="middle" font-weight="normal">0.25</text>
<path d="M373.65,506.8 L373.65,511.5" stroke="#231f20" stroke-width="1.3"/>
<text x="373.65" y="527.40" font-size="13" text-anchor="middle" font-weight="normal">0.50</text>
<path d="M434.62,506.8 L434.62,511.5" stroke="#231f20" stroke-width="1.3"/>
<text x="434.62" y="527.40" font-size="13" text-anchor="middle" font-weight="normal">0.75</text>
<path d="M495.60,506.8 L495.60,511.5" stroke="#231f20" stroke-width="1.3"/>
<text x="495.60" y="527.40" font-size="13" text-anchor="middle" font-weight="normal">1.00</text>
<text x="338.50" y="546.80" font-size="14" text-anchor="start" font-weight="normal" textLength="67.5" lengthAdjust="spacingAndGlyphs" stroke="#231f20" stroke-width="0.25">VWF (µg/ml)</text>
<g transform="translate(189.6,469.1) rotate(-90)"><text x="0.00" y="0.00" font-size="14.3" text-anchor="start" font-weight="normal" textLength="121" lengthAdjust="spacingAndGlyphs" stroke="#231f20" stroke-width="0.25">Response (OD450 nm)</text></g>
<path d="M251.70,479.80 L252.01,479.38 L252.32,478.87 L252.63,478.33 L252.93,477.77 L253.24,477.20 L253.55,476.61 L253.86,476.02 L254.17,475.42 L254.48,474.81 L254.79,474.20 L255.10,473.59 L255.40,472.98 L255.71,472.36 L256.02,471.75 L256.33,471.13 L256.64,470.52 L256.95,469.90 L257.26,469.29 L257.57,468.68 L257.87,468.06 L258.18,467.46 L258.49,466.85 L258.80,466.24 L259.11,465.64 L259.42,465.04 L259.73,464.44 L260.04,463.85 L260.34,463.26 L260.65,462.67 L260.96,462.08 L261.27,461.50 L261.58,460.92 L261.89,460.34 L262.20,459.77 L262.51,459.20 L262.81,458.63 L263.12,458.06 L263.43,457.50 L263.74,456.95 L264.05,456.39 L264.36,455.84 L264.67,455.30 L264.98,454.75 L265.28,454.21 L265.59,453.68 L265.90,453.15 L266.21,452.62 L266.52,452.09 L266.83,451.57 L267.14,451.05 L267.45,450.54 L267.75,450.03 L268.06,449.52 L268.37,449.01 L268.68,448.51 L268.99,448.01 L269.30,447.52 L269.61,447.03 L269.92,446.54 L270.22,446.06 L270.53,445.58 L270.84,445.10 L271.15,444.63 L271.46,444.16 L271.77,443.69 L272.08,443.23 L272.39,442.77 L272.69,442.31 L273.00,441.86 L273.31,441.41 L273.62,440.96 L273.93,440.51 L274.24,440.07 L274.55,439.64 L274.86,439.20 L275.16,438.77 L275.47,438.34 L275.78,437.91 L276.09,437.49 L277.93,435.03 L279.78,432.67 L281.62,430.41 L283.47,428.24 L285.31,426.16 L287.16,424.16 L289.00,422.25 L290.85,420.41 L292.69,418.64 L294.54,416.94 L296.38,415.30 L298.23,413.73 L300.07,412.22 L301.91,410.76 L303.76,409.35 L305.60,408.00 L307.45,406.69 L309.29,405.43 L311.14,404.21 L312.98,403.04 L314.83,401.90 L316.67,400.80 L318.52,399.74 L320.36,398.71 L322.21,397.71 L324.05,396.75 L325.89,395.81 L327.74,394.91 L329.58,394.03 L331.43,393.18 L333.27,392.35 L335.12,391.55 L336.96,390.77 L338.81,390.01 L340.65,389.28 L342.50,388.56 L344.34,387.87 L346.19,387.19 L348.03,386.53 L349.87,385.89 L351.72,385.27 L353.56,384.66 L355.41,384.07 L357.25,383.49 L359.10,382.93 L360.94,382.38 L362.79,381.85 L364.63,381.33 L366.48,380.82 L368.32,380.32 L370.17,379.83 L372.01,379.36 L373.85,378.90 L375.70,378.45 L377.54,378.00 L379.39,377.57 L381.23,377.15 L383.08,376.74 L384.92,376.33 L386.77,375.94 L388.61,375.55 L390.46,375.17 L392.30,374.80 L394.15,374.44 L395.99,374.08 L397.84,373.73 L399.68,373.39 L401.52,373.06 L403.37,372.73 L405.21,372.41 L407.06,372.10 L408.90,371.79 L410.75,371.48 L412.59,371.19 L414.44,370.90 L416.28,370.61 L418.13,370.33 L419.97,370.05 L421.82,369.78 L423.66,369.52 L425.50,369.26 L427.35,369.00 L429.19,368.75 L431.04,368.50 L432.88,368.26 L434.73,368.02 L436.57,367.79 L438.42,367.56 L440.26,367.33 L442.11,367.11 L443.95,366.89 L445.80,366.67 L447.64,366.46 L449.48,366.25 L451.33,366.05 L453.17,365.84 L455.02,365.65 L456.86,365.45 L458.71,365.26 L460.55,365.07 L462.40,364.88 L464.24,364.70 L466.09,364.52 L467.93,364.34 L469.78,364.16 L471.62,363.99 L473.46,363.82 L475.31,363.65 L477.15,363.49 L479.00,363.32 L480.84,363.16 L482.69,363.01 L484.53,362.85 L486.38,362.70 L488.22,362.54 L490.07,362.40 L491.91,362.25 L493.76,362.10 L495.60,361.96" stroke="#17584a" stroke-width="1.7" fill="none"/>
<path d="M251.70,479.80 L252.01,479.13 L252.32,478.42 L252.63,477.69 L252.93,476.96 L253.24,476.22 L253.55,475.48 L253.86,474.74 L254.17,474.00 L254.48,473.27 L254.79,472.53 L255.10,471.80 L255.40,471.07 L255.71,470.35 L256.02,469.63 L256.33,468.91 L256.64,468.20 L256.95,467.50 L257.26,466.79 L257.57,466.10 L257.87,465.40 L258.18,464.71 L258.49,464.03 L258.80,463.35 L259.11,462.68 L259.42,462.01 L259.73,461.34 L260.04,460.68 L260.34,460.03 L260.65,459.38 L260.96,458.73 L261.27,458.09 L261.58,457.46 L261.89,456.83 L262.20,456.20 L262.51,455.58 L262.81,454.97 L263.12,454.36 L263.43,453.75 L263.74,453.15 L264.05,452.55 L264.36,451.96 L264.67,451.37 L264.98,450.79 L265.28,450.21 L265.59,449.64 L265.90,449.07 L266.21,448.50 L266.52,447.94 L266.83,447.38 L267.14,446.83 L267.45,446.28 L267.75,445.74 L268.06,445.20 L268.37,444.66 L268.68,444.13 L268.99,443.60 L269.30,443.08 L269.61,442.56 L269.92,442.05 L270.22,441.54 L270.53,441.03 L270.84,440.52 L271.15,440.03 L271.46,439.53 L271.77,439.04 L272.08,438.55 L272.39,438.06 L272.69,437.58 L273.00,437.11 L273.31,436.63 L273.62,436.16 L273.93,435.69 L274.24,435.23 L274.55,434.77 L274.86,434.31 L275.16,433.86 L275.47,433.41 L275.78,432.97 L276.09,432.52 L277.93,429.94 L279.78,427.47 L281.62,425.10 L283.47,422.83 L285.31,420.65 L287.16,418.56 L289.00,416.55 L290.85,414.62 L292.69,412.76 L294.54,410.97 L296.38,409.25 L298.23,407.59 L300.07,405.99 L301.91,404.44 L303.76,402.95 L305.60,401.51 L307.45,400.12 L309.29,398.77 L311.14,397.47 L312.98,396.21 L314.83,394.99 L316.67,393.81 L318.52,392.67 L320.36,391.56 L322.21,390.48 L324.05,389.43 L325.89,388.42 L327.74,387.43 L329.58,386.48 L331.43,385.55 L333.27,384.64 L335.12,383.76 L336.96,382.91 L338.81,382.07 L340.65,381.26 L342.50,380.47 L344.34,379.70 L346.19,378.95 L348.03,378.22 L349.87,377.51 L351.72,376.81 L353.56,376.14 L355.41,375.47 L357.25,374.83 L359.10,374.20 L360.94,373.58 L362.79,372.98 L364.63,372.39 L366.48,371.81 L368.32,371.25 L370.17,370.70 L372.01,370.16 L373.85,369.63 L375.70,369.12 L377.54,368.62 L379.39,368.12 L381.23,367.64 L383.08,367.16 L384.92,366.70 L386.77,366.25 L388.61,365.80 L390.46,365.36 L392.30,364.93 L394.15,364.51 L395.99,364.10 L397.84,363.70 L399.68,363.30 L401.52,362.91 L403.37,362.53 L405.21,362.16 L407.06,361.79 L408.90,361.43 L410.75,361.07 L412.59,360.72 L414.44,360.38 L416.28,360.05 L418.13,359.72 L419.97,359.39 L421.82,359.07 L423.66,358.76 L425.50,358.45 L427.35,358.15 L429.19,357.85 L431.04,357.55 L432.88,357.26 L434.73,356.98 L436.57,356.70 L438.42,356.43 L440.26,356.15 L442.11,355.89 L443.95,355.63 L445.80,355.37 L447.64,355.11 L449.48,354.86 L451.33,354.62 L453.17,354.37 L455.02,354.13 L456.86,353.90 L458.71,353.66 L460.55,353.44 L462.40,353.21 L464.24,352.99 L466.09,352.77 L467.93,352.55 L469.78,352.34 L471.62,352.13 L473.46,351.92 L475.31,351.72 L477.15,351.52 L479.00,351.32 L480.84,351.12 L482.69,350.93 L484.53,350.74 L486.38,350.55 L488.22,350.36 L490.07,350.18 L491.91,350.00 L493.76,349.82 L495.60,349.64" stroke="#111" stroke-width="1.7" fill="none"/>
<path d="M282.40,414.30 L282.40,422.00 M277.60,414.30 L287.20,414.30" stroke="#231f20" stroke-width="1.3" fill="none"/>
<path d="M287.70,421.00 L287.70,435.20 M282.90,421.00 L292.50,421.00 M282.90,435.20 L292.50,435.20" stroke="#231f20" stroke-width="1.3" fill="none"/>
<path d="M312.80,389.90 L312.80,397.00 M308.00,389.90 L317.60,389.90" stroke="#231f20" stroke-width="1.3" fill="none"/>
<path d="M495.80,331.20 L495.80,358.00 M491.00,331.20 L500.60,331.20" stroke="#231f20" stroke-width="1.3" fill="none"/>
<rect x="254.00" y="474.70" width="8" height="8" fill="#1b6b58" stroke="#111" stroke-width="1.0"/>
<rect x="260.40" y="455.80" width="8" height="8" fill="#1b6b58" stroke="#111" stroke-width="1.0"/>
<rect x="283.70" y="423.70" width="8" height="8" fill="#1b6b58" stroke="#111" stroke-width="1.0"/>
<rect x="313.20" y="397.30" width="8" height="8" fill="#1b6b58" stroke="#111" stroke-width="1.0"/>
<rect x="374.80" y="378.30" width="8" height="8" fill="#1b6b58" stroke="#111" stroke-width="1.0"/>
<rect x="496.30" y="356.80" width="8" height="8" fill="#1b6b58" stroke="#111" stroke-width="1.0"/>
<circle cx="251.7" cy="478.0" r="4.1" fill="#f39200" stroke="#2a1d05" stroke-width="1.1"/>
<circle cx="259.0" cy="456.3" r="4.1" fill="#f39200" stroke="#2a1d05" stroke-width="1.1"/>
<circle cx="282.4" cy="422.2" r="4.1" fill="#f39200" stroke="#2a1d05" stroke-width="1.1"/>
<circle cx="312.9" cy="397.1" r="4.1" fill="#f39200" stroke="#2a1d05" stroke-width="1.1"/>
<circle cx="373.8" cy="372.7" r="4.1" fill="#f39200" stroke="#2a1d05" stroke-width="1.1"/>
<circle cx="495.8" cy="346.3" r="4.1" fill="#f39200" stroke="#2a1d05" stroke-width="1.1"/>
<path d="M394.1,468 L415,468 M394.1,486.8 L415,486.8" stroke="#1a1a1a" stroke-width="1.4"/>
<circle cx="404.4" cy="468" r="4.1" fill="#f39200" stroke="#2a1d05" stroke-width="1.1"/>
<rect x="401" y="483.1" width="7.4" height="7.4" fill="#1b6b58" stroke="#111" stroke-width="1.0"/>
<text x="420.60" y="471.80" font-size="11" text-anchor="start" font-weight="normal" textLength="80.3" lengthAdjust="spacingAndGlyphs">full-length VWF</text>
<text x="420.60" y="489.80" font-size="11" text-anchor="start" font-weight="normal" textLength="77.6" lengthAdjust="spacingAndGlyphs">VWF/delta-pro</text>
</svg>
</body></html>
